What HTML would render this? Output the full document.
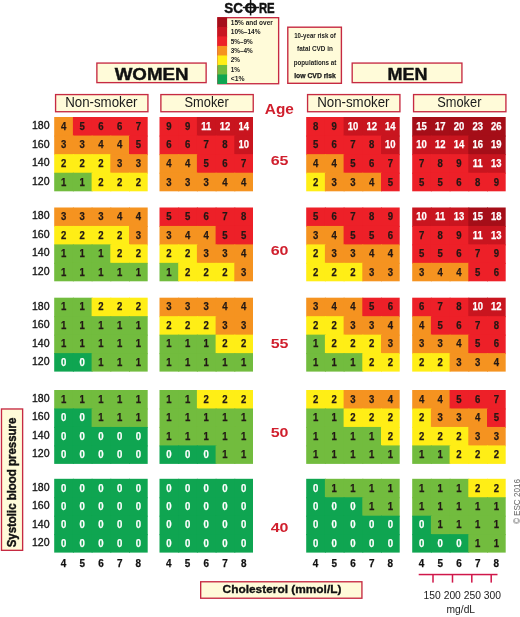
<!DOCTYPE html>
<html lang="en"><head><meta charset="utf-8"><title>SCORE chart</title>
<style>
html,body{margin:0;padding:0;background:#fff}
#c{position:relative;width:520px;height:617px;overflow:hidden;background:#fff;font-family:"Liberation Sans", sans-serif}
#c i{position:absolute;display:block}
#c b{position:absolute;display:block;white-space:nowrap;line-height:1;font-weight:400;font-style:normal;left:0;top:0;transform-origin:0 0}
</style></head><body><div id="c">
<svg width="520" height="617" viewBox="0 0 520 617" style="position:absolute;left:0;top:0">
<rect x="54.20" y="117.00" width="19.70" height="19.58" fill="#f59320"/>
<rect x="72.90" y="117.00" width="19.70" height="19.58" fill="#ed2028"/>
<rect x="91.60" y="117.00" width="19.70" height="19.58" fill="#ed2028"/>
<rect x="110.30" y="117.00" width="19.70" height="19.58" fill="#ed2028"/>
<rect x="129.00" y="117.00" width="18.70" height="19.58" fill="#ed2028"/>
<rect x="54.20" y="135.57" width="19.70" height="19.58" fill="#f59320"/>
<rect x="72.90" y="135.57" width="19.70" height="19.58" fill="#f59320"/>
<rect x="91.60" y="135.57" width="19.70" height="19.58" fill="#f59320"/>
<rect x="110.30" y="135.57" width="19.70" height="19.58" fill="#f59320"/>
<rect x="129.00" y="135.57" width="18.70" height="19.58" fill="#ed2028"/>
<rect x="54.20" y="154.15" width="19.70" height="19.58" fill="#ffee16"/>
<rect x="72.90" y="154.15" width="19.70" height="19.58" fill="#ffee16"/>
<rect x="91.60" y="154.15" width="19.70" height="19.58" fill="#ffee16"/>
<rect x="110.30" y="154.15" width="19.70" height="19.58" fill="#f59320"/>
<rect x="129.00" y="154.15" width="18.70" height="19.58" fill="#f59320"/>
<rect x="54.20" y="172.73" width="19.70" height="18.58" fill="#72bc3e"/>
<rect x="72.90" y="172.73" width="19.70" height="18.58" fill="#72bc3e"/>
<rect x="91.60" y="172.73" width="19.70" height="18.58" fill="#ffee16"/>
<rect x="110.30" y="172.73" width="19.70" height="18.58" fill="#ffee16"/>
<rect x="129.00" y="172.73" width="18.70" height="18.58" fill="#ffee16"/>
<rect x="159.50" y="117.00" width="19.70" height="19.58" fill="#ed2028"/>
<rect x="178.20" y="117.00" width="19.70" height="19.58" fill="#ed2028"/>
<rect x="196.90" y="117.00" width="19.70" height="19.58" fill="#c9151f"/>
<rect x="215.60" y="117.00" width="19.70" height="19.58" fill="#c9151f"/>
<rect x="234.30" y="117.00" width="18.70" height="19.58" fill="#c9151f"/>
<rect x="159.50" y="135.57" width="19.70" height="19.58" fill="#ed2028"/>
<rect x="178.20" y="135.57" width="19.70" height="19.58" fill="#ed2028"/>
<rect x="196.90" y="135.57" width="19.70" height="19.58" fill="#ed2028"/>
<rect x="215.60" y="135.57" width="19.70" height="19.58" fill="#ed2028"/>
<rect x="234.30" y="135.57" width="18.70" height="19.58" fill="#c9151f"/>
<rect x="159.50" y="154.15" width="19.70" height="19.58" fill="#f59320"/>
<rect x="178.20" y="154.15" width="19.70" height="19.58" fill="#f59320"/>
<rect x="196.90" y="154.15" width="19.70" height="19.58" fill="#ed2028"/>
<rect x="215.60" y="154.15" width="19.70" height="19.58" fill="#ed2028"/>
<rect x="234.30" y="154.15" width="18.70" height="19.58" fill="#ed2028"/>
<rect x="159.50" y="172.73" width="19.70" height="18.58" fill="#f59320"/>
<rect x="178.20" y="172.73" width="19.70" height="18.58" fill="#f59320"/>
<rect x="196.90" y="172.73" width="19.70" height="18.58" fill="#f59320"/>
<rect x="215.60" y="172.73" width="19.70" height="18.58" fill="#f59320"/>
<rect x="234.30" y="172.73" width="18.70" height="18.58" fill="#f59320"/>
<rect x="306.20" y="117.00" width="19.70" height="19.58" fill="#ed2028"/>
<rect x="324.90" y="117.00" width="19.70" height="19.58" fill="#ed2028"/>
<rect x="343.60" y="117.00" width="19.70" height="19.58" fill="#c9151f"/>
<rect x="362.30" y="117.00" width="19.70" height="19.58" fill="#c9151f"/>
<rect x="381.00" y="117.00" width="18.70" height="19.58" fill="#c9151f"/>
<rect x="306.20" y="135.57" width="19.70" height="19.58" fill="#ed2028"/>
<rect x="324.90" y="135.57" width="19.70" height="19.58" fill="#ed2028"/>
<rect x="343.60" y="135.57" width="19.70" height="19.58" fill="#ed2028"/>
<rect x="362.30" y="135.57" width="19.70" height="19.58" fill="#ed2028"/>
<rect x="381.00" y="135.57" width="18.70" height="19.58" fill="#c9151f"/>
<rect x="306.20" y="154.15" width="19.70" height="19.58" fill="#f59320"/>
<rect x="324.90" y="154.15" width="19.70" height="19.58" fill="#f59320"/>
<rect x="343.60" y="154.15" width="19.70" height="19.58" fill="#ed2028"/>
<rect x="362.30" y="154.15" width="19.70" height="19.58" fill="#ed2028"/>
<rect x="381.00" y="154.15" width="18.70" height="19.58" fill="#ed2028"/>
<rect x="306.20" y="172.73" width="19.70" height="18.58" fill="#ffee16"/>
<rect x="324.90" y="172.73" width="19.70" height="18.58" fill="#f59320"/>
<rect x="343.60" y="172.73" width="19.70" height="18.58" fill="#f59320"/>
<rect x="362.30" y="172.73" width="19.70" height="18.58" fill="#f59320"/>
<rect x="381.00" y="172.73" width="18.70" height="18.58" fill="#ed2028"/>
<rect x="412.20" y="117.00" width="19.70" height="19.58" fill="#a50e18"/>
<rect x="430.90" y="117.00" width="19.70" height="19.58" fill="#a50e18"/>
<rect x="449.60" y="117.00" width="19.70" height="19.58" fill="#a50e18"/>
<rect x="468.30" y="117.00" width="19.70" height="19.58" fill="#a50e18"/>
<rect x="487.00" y="117.00" width="18.70" height="19.58" fill="#a50e18"/>
<rect x="412.20" y="135.57" width="19.70" height="19.58" fill="#c9151f"/>
<rect x="430.90" y="135.57" width="19.70" height="19.58" fill="#c9151f"/>
<rect x="449.60" y="135.57" width="19.70" height="19.58" fill="#c9151f"/>
<rect x="468.30" y="135.57" width="19.70" height="19.58" fill="#a50e18"/>
<rect x="487.00" y="135.57" width="18.70" height="19.58" fill="#a50e18"/>
<rect x="412.20" y="154.15" width="19.70" height="19.58" fill="#ed2028"/>
<rect x="430.90" y="154.15" width="19.70" height="19.58" fill="#ed2028"/>
<rect x="449.60" y="154.15" width="19.70" height="19.58" fill="#ed2028"/>
<rect x="468.30" y="154.15" width="19.70" height="19.58" fill="#c9151f"/>
<rect x="487.00" y="154.15" width="18.70" height="19.58" fill="#c9151f"/>
<rect x="412.20" y="172.73" width="19.70" height="18.58" fill="#ed2028"/>
<rect x="430.90" y="172.73" width="19.70" height="18.58" fill="#ed2028"/>
<rect x="449.60" y="172.73" width="19.70" height="18.58" fill="#ed2028"/>
<rect x="468.30" y="172.73" width="19.70" height="18.58" fill="#ed2028"/>
<rect x="487.00" y="172.73" width="18.70" height="18.58" fill="#ed2028"/>
<rect x="54.20" y="207.50" width="19.70" height="19.45" fill="#f59320"/>
<rect x="72.90" y="207.50" width="19.70" height="19.45" fill="#f59320"/>
<rect x="91.60" y="207.50" width="19.70" height="19.45" fill="#f59320"/>
<rect x="110.30" y="207.50" width="19.70" height="19.45" fill="#f59320"/>
<rect x="129.00" y="207.50" width="18.70" height="19.45" fill="#f59320"/>
<rect x="54.20" y="225.95" width="19.70" height="19.45" fill="#ffee16"/>
<rect x="72.90" y="225.95" width="19.70" height="19.45" fill="#ffee16"/>
<rect x="91.60" y="225.95" width="19.70" height="19.45" fill="#ffee16"/>
<rect x="110.30" y="225.95" width="19.70" height="19.45" fill="#ffee16"/>
<rect x="129.00" y="225.95" width="18.70" height="19.45" fill="#f59320"/>
<rect x="54.20" y="244.40" width="19.70" height="19.45" fill="#72bc3e"/>
<rect x="72.90" y="244.40" width="19.70" height="19.45" fill="#72bc3e"/>
<rect x="91.60" y="244.40" width="19.70" height="19.45" fill="#72bc3e"/>
<rect x="110.30" y="244.40" width="19.70" height="19.45" fill="#ffee16"/>
<rect x="129.00" y="244.40" width="18.70" height="19.45" fill="#ffee16"/>
<rect x="54.20" y="262.85" width="19.70" height="18.45" fill="#72bc3e"/>
<rect x="72.90" y="262.85" width="19.70" height="18.45" fill="#72bc3e"/>
<rect x="91.60" y="262.85" width="19.70" height="18.45" fill="#72bc3e"/>
<rect x="110.30" y="262.85" width="19.70" height="18.45" fill="#72bc3e"/>
<rect x="129.00" y="262.85" width="18.70" height="18.45" fill="#72bc3e"/>
<rect x="159.50" y="207.50" width="19.70" height="19.45" fill="#ed2028"/>
<rect x="178.20" y="207.50" width="19.70" height="19.45" fill="#ed2028"/>
<rect x="196.90" y="207.50" width="19.70" height="19.45" fill="#ed2028"/>
<rect x="215.60" y="207.50" width="19.70" height="19.45" fill="#ed2028"/>
<rect x="234.30" y="207.50" width="18.70" height="19.45" fill="#ed2028"/>
<rect x="159.50" y="225.95" width="19.70" height="19.45" fill="#f59320"/>
<rect x="178.20" y="225.95" width="19.70" height="19.45" fill="#f59320"/>
<rect x="196.90" y="225.95" width="19.70" height="19.45" fill="#f59320"/>
<rect x="215.60" y="225.95" width="19.70" height="19.45" fill="#ed2028"/>
<rect x="234.30" y="225.95" width="18.70" height="19.45" fill="#ed2028"/>
<rect x="159.50" y="244.40" width="19.70" height="19.45" fill="#ffee16"/>
<rect x="178.20" y="244.40" width="19.70" height="19.45" fill="#ffee16"/>
<rect x="196.90" y="244.40" width="19.70" height="19.45" fill="#f59320"/>
<rect x="215.60" y="244.40" width="19.70" height="19.45" fill="#f59320"/>
<rect x="234.30" y="244.40" width="18.70" height="19.45" fill="#f59320"/>
<rect x="159.50" y="262.85" width="19.70" height="18.45" fill="#72bc3e"/>
<rect x="178.20" y="262.85" width="19.70" height="18.45" fill="#ffee16"/>
<rect x="196.90" y="262.85" width="19.70" height="18.45" fill="#ffee16"/>
<rect x="215.60" y="262.85" width="19.70" height="18.45" fill="#ffee16"/>
<rect x="234.30" y="262.85" width="18.70" height="18.45" fill="#f59320"/>
<rect x="306.20" y="207.50" width="19.70" height="19.45" fill="#ed2028"/>
<rect x="324.90" y="207.50" width="19.70" height="19.45" fill="#ed2028"/>
<rect x="343.60" y="207.50" width="19.70" height="19.45" fill="#ed2028"/>
<rect x="362.30" y="207.50" width="19.70" height="19.45" fill="#ed2028"/>
<rect x="381.00" y="207.50" width="18.70" height="19.45" fill="#ed2028"/>
<rect x="306.20" y="225.95" width="19.70" height="19.45" fill="#f59320"/>
<rect x="324.90" y="225.95" width="19.70" height="19.45" fill="#f59320"/>
<rect x="343.60" y="225.95" width="19.70" height="19.45" fill="#ed2028"/>
<rect x="362.30" y="225.95" width="19.70" height="19.45" fill="#ed2028"/>
<rect x="381.00" y="225.95" width="18.70" height="19.45" fill="#ed2028"/>
<rect x="306.20" y="244.40" width="19.70" height="19.45" fill="#ffee16"/>
<rect x="324.90" y="244.40" width="19.70" height="19.45" fill="#f59320"/>
<rect x="343.60" y="244.40" width="19.70" height="19.45" fill="#f59320"/>
<rect x="362.30" y="244.40" width="19.70" height="19.45" fill="#f59320"/>
<rect x="381.00" y="244.40" width="18.70" height="19.45" fill="#f59320"/>
<rect x="306.20" y="262.85" width="19.70" height="18.45" fill="#ffee16"/>
<rect x="324.90" y="262.85" width="19.70" height="18.45" fill="#ffee16"/>
<rect x="343.60" y="262.85" width="19.70" height="18.45" fill="#ffee16"/>
<rect x="362.30" y="262.85" width="19.70" height="18.45" fill="#f59320"/>
<rect x="381.00" y="262.85" width="18.70" height="18.45" fill="#f59320"/>
<rect x="412.20" y="207.50" width="19.70" height="19.45" fill="#c9151f"/>
<rect x="430.90" y="207.50" width="19.70" height="19.45" fill="#c9151f"/>
<rect x="449.60" y="207.50" width="19.70" height="19.45" fill="#c9151f"/>
<rect x="468.30" y="207.50" width="19.70" height="19.45" fill="#a50e18"/>
<rect x="487.00" y="207.50" width="18.70" height="19.45" fill="#a50e18"/>
<rect x="412.20" y="225.95" width="19.70" height="19.45" fill="#ed2028"/>
<rect x="430.90" y="225.95" width="19.70" height="19.45" fill="#ed2028"/>
<rect x="449.60" y="225.95" width="19.70" height="19.45" fill="#ed2028"/>
<rect x="468.30" y="225.95" width="19.70" height="19.45" fill="#c9151f"/>
<rect x="487.00" y="225.95" width="18.70" height="19.45" fill="#c9151f"/>
<rect x="412.20" y="244.40" width="19.70" height="19.45" fill="#ed2028"/>
<rect x="430.90" y="244.40" width="19.70" height="19.45" fill="#ed2028"/>
<rect x="449.60" y="244.40" width="19.70" height="19.45" fill="#ed2028"/>
<rect x="468.30" y="244.40" width="19.70" height="19.45" fill="#ed2028"/>
<rect x="487.00" y="244.40" width="18.70" height="19.45" fill="#ed2028"/>
<rect x="412.20" y="262.85" width="19.70" height="18.45" fill="#f59320"/>
<rect x="430.90" y="262.85" width="19.70" height="18.45" fill="#f59320"/>
<rect x="449.60" y="262.85" width="19.70" height="18.45" fill="#f59320"/>
<rect x="468.30" y="262.85" width="19.70" height="18.45" fill="#ed2028"/>
<rect x="487.00" y="262.85" width="18.70" height="18.45" fill="#ed2028"/>
<rect x="54.20" y="297.70" width="19.70" height="19.48" fill="#72bc3e"/>
<rect x="72.90" y="297.70" width="19.70" height="19.48" fill="#72bc3e"/>
<rect x="91.60" y="297.70" width="19.70" height="19.48" fill="#ffee16"/>
<rect x="110.30" y="297.70" width="19.70" height="19.48" fill="#ffee16"/>
<rect x="129.00" y="297.70" width="18.70" height="19.48" fill="#ffee16"/>
<rect x="54.20" y="316.18" width="19.70" height="19.48" fill="#72bc3e"/>
<rect x="72.90" y="316.18" width="19.70" height="19.48" fill="#72bc3e"/>
<rect x="91.60" y="316.18" width="19.70" height="19.48" fill="#72bc3e"/>
<rect x="110.30" y="316.18" width="19.70" height="19.48" fill="#72bc3e"/>
<rect x="129.00" y="316.18" width="18.70" height="19.48" fill="#72bc3e"/>
<rect x="54.20" y="334.65" width="19.70" height="19.48" fill="#72bc3e"/>
<rect x="72.90" y="334.65" width="19.70" height="19.48" fill="#72bc3e"/>
<rect x="91.60" y="334.65" width="19.70" height="19.48" fill="#72bc3e"/>
<rect x="110.30" y="334.65" width="19.70" height="19.48" fill="#72bc3e"/>
<rect x="129.00" y="334.65" width="18.70" height="19.48" fill="#72bc3e"/>
<rect x="54.20" y="353.12" width="19.70" height="18.48" fill="#0fa551"/>
<rect x="72.90" y="353.12" width="19.70" height="18.48" fill="#0fa551"/>
<rect x="91.60" y="353.12" width="19.70" height="18.48" fill="#72bc3e"/>
<rect x="110.30" y="353.12" width="19.70" height="18.48" fill="#72bc3e"/>
<rect x="129.00" y="353.12" width="18.70" height="18.48" fill="#72bc3e"/>
<rect x="159.50" y="297.70" width="19.70" height="19.48" fill="#f59320"/>
<rect x="178.20" y="297.70" width="19.70" height="19.48" fill="#f59320"/>
<rect x="196.90" y="297.70" width="19.70" height="19.48" fill="#f59320"/>
<rect x="215.60" y="297.70" width="19.70" height="19.48" fill="#f59320"/>
<rect x="234.30" y="297.70" width="18.70" height="19.48" fill="#f59320"/>
<rect x="159.50" y="316.18" width="19.70" height="19.48" fill="#ffee16"/>
<rect x="178.20" y="316.18" width="19.70" height="19.48" fill="#ffee16"/>
<rect x="196.90" y="316.18" width="19.70" height="19.48" fill="#ffee16"/>
<rect x="215.60" y="316.18" width="19.70" height="19.48" fill="#f59320"/>
<rect x="234.30" y="316.18" width="18.70" height="19.48" fill="#f59320"/>
<rect x="159.50" y="334.65" width="19.70" height="19.48" fill="#72bc3e"/>
<rect x="178.20" y="334.65" width="19.70" height="19.48" fill="#72bc3e"/>
<rect x="196.90" y="334.65" width="19.70" height="19.48" fill="#72bc3e"/>
<rect x="215.60" y="334.65" width="19.70" height="19.48" fill="#ffee16"/>
<rect x="234.30" y="334.65" width="18.70" height="19.48" fill="#ffee16"/>
<rect x="159.50" y="353.12" width="19.70" height="18.48" fill="#72bc3e"/>
<rect x="178.20" y="353.12" width="19.70" height="18.48" fill="#72bc3e"/>
<rect x="196.90" y="353.12" width="19.70" height="18.48" fill="#72bc3e"/>
<rect x="215.60" y="353.12" width="19.70" height="18.48" fill="#72bc3e"/>
<rect x="234.30" y="353.12" width="18.70" height="18.48" fill="#72bc3e"/>
<rect x="306.20" y="297.70" width="19.70" height="19.48" fill="#f59320"/>
<rect x="324.90" y="297.70" width="19.70" height="19.48" fill="#f59320"/>
<rect x="343.60" y="297.70" width="19.70" height="19.48" fill="#f59320"/>
<rect x="362.30" y="297.70" width="19.70" height="19.48" fill="#ed2028"/>
<rect x="381.00" y="297.70" width="18.70" height="19.48" fill="#ed2028"/>
<rect x="306.20" y="316.18" width="19.70" height="19.48" fill="#ffee16"/>
<rect x="324.90" y="316.18" width="19.70" height="19.48" fill="#ffee16"/>
<rect x="343.60" y="316.18" width="19.70" height="19.48" fill="#f59320"/>
<rect x="362.30" y="316.18" width="19.70" height="19.48" fill="#f59320"/>
<rect x="381.00" y="316.18" width="18.70" height="19.48" fill="#f59320"/>
<rect x="306.20" y="334.65" width="19.70" height="19.48" fill="#72bc3e"/>
<rect x="324.90" y="334.65" width="19.70" height="19.48" fill="#ffee16"/>
<rect x="343.60" y="334.65" width="19.70" height="19.48" fill="#ffee16"/>
<rect x="362.30" y="334.65" width="19.70" height="19.48" fill="#ffee16"/>
<rect x="381.00" y="334.65" width="18.70" height="19.48" fill="#f59320"/>
<rect x="306.20" y="353.12" width="19.70" height="18.48" fill="#72bc3e"/>
<rect x="324.90" y="353.12" width="19.70" height="18.48" fill="#72bc3e"/>
<rect x="343.60" y="353.12" width="19.70" height="18.48" fill="#72bc3e"/>
<rect x="362.30" y="353.12" width="19.70" height="18.48" fill="#ffee16"/>
<rect x="381.00" y="353.12" width="18.70" height="18.48" fill="#ffee16"/>
<rect x="412.20" y="297.70" width="19.70" height="19.48" fill="#ed2028"/>
<rect x="430.90" y="297.70" width="19.70" height="19.48" fill="#ed2028"/>
<rect x="449.60" y="297.70" width="19.70" height="19.48" fill="#ed2028"/>
<rect x="468.30" y="297.70" width="19.70" height="19.48" fill="#c9151f"/>
<rect x="487.00" y="297.70" width="18.70" height="19.48" fill="#c9151f"/>
<rect x="412.20" y="316.18" width="19.70" height="19.48" fill="#f59320"/>
<rect x="430.90" y="316.18" width="19.70" height="19.48" fill="#ed2028"/>
<rect x="449.60" y="316.18" width="19.70" height="19.48" fill="#ed2028"/>
<rect x="468.30" y="316.18" width="19.70" height="19.48" fill="#ed2028"/>
<rect x="487.00" y="316.18" width="18.70" height="19.48" fill="#ed2028"/>
<rect x="412.20" y="334.65" width="19.70" height="19.48" fill="#f59320"/>
<rect x="430.90" y="334.65" width="19.70" height="19.48" fill="#f59320"/>
<rect x="449.60" y="334.65" width="19.70" height="19.48" fill="#f59320"/>
<rect x="468.30" y="334.65" width="19.70" height="19.48" fill="#ed2028"/>
<rect x="487.00" y="334.65" width="18.70" height="19.48" fill="#ed2028"/>
<rect x="412.20" y="353.12" width="19.70" height="18.48" fill="#ffee16"/>
<rect x="430.90" y="353.12" width="19.70" height="18.48" fill="#ffee16"/>
<rect x="449.60" y="353.12" width="19.70" height="18.48" fill="#f59320"/>
<rect x="468.30" y="353.12" width="19.70" height="18.48" fill="#f59320"/>
<rect x="487.00" y="353.12" width="18.70" height="18.48" fill="#f59320"/>
<rect x="54.20" y="390.00" width="19.70" height="19.47" fill="#72bc3e"/>
<rect x="72.90" y="390.00" width="19.70" height="19.47" fill="#72bc3e"/>
<rect x="91.60" y="390.00" width="19.70" height="19.47" fill="#72bc3e"/>
<rect x="110.30" y="390.00" width="19.70" height="19.47" fill="#72bc3e"/>
<rect x="129.00" y="390.00" width="18.70" height="19.47" fill="#72bc3e"/>
<rect x="54.20" y="408.48" width="19.70" height="19.47" fill="#0fa551"/>
<rect x="72.90" y="408.48" width="19.70" height="19.47" fill="#0fa551"/>
<rect x="91.60" y="408.48" width="19.70" height="19.47" fill="#72bc3e"/>
<rect x="110.30" y="408.48" width="19.70" height="19.47" fill="#72bc3e"/>
<rect x="129.00" y="408.48" width="18.70" height="19.47" fill="#72bc3e"/>
<rect x="54.20" y="426.95" width="19.70" height="19.47" fill="#0fa551"/>
<rect x="72.90" y="426.95" width="19.70" height="19.47" fill="#0fa551"/>
<rect x="91.60" y="426.95" width="19.70" height="19.47" fill="#0fa551"/>
<rect x="110.30" y="426.95" width="19.70" height="19.47" fill="#0fa551"/>
<rect x="129.00" y="426.95" width="18.70" height="19.47" fill="#0fa551"/>
<rect x="54.20" y="445.42" width="19.70" height="18.47" fill="#0fa551"/>
<rect x="72.90" y="445.42" width="19.70" height="18.47" fill="#0fa551"/>
<rect x="91.60" y="445.42" width="19.70" height="18.47" fill="#0fa551"/>
<rect x="110.30" y="445.42" width="19.70" height="18.47" fill="#0fa551"/>
<rect x="129.00" y="445.42" width="18.70" height="18.47" fill="#0fa551"/>
<rect x="159.50" y="390.00" width="19.70" height="19.47" fill="#72bc3e"/>
<rect x="178.20" y="390.00" width="19.70" height="19.47" fill="#72bc3e"/>
<rect x="196.90" y="390.00" width="19.70" height="19.47" fill="#ffee16"/>
<rect x="215.60" y="390.00" width="19.70" height="19.47" fill="#ffee16"/>
<rect x="234.30" y="390.00" width="18.70" height="19.47" fill="#ffee16"/>
<rect x="159.50" y="408.48" width="19.70" height="19.47" fill="#72bc3e"/>
<rect x="178.20" y="408.48" width="19.70" height="19.47" fill="#72bc3e"/>
<rect x="196.90" y="408.48" width="19.70" height="19.47" fill="#72bc3e"/>
<rect x="215.60" y="408.48" width="19.70" height="19.47" fill="#72bc3e"/>
<rect x="234.30" y="408.48" width="18.70" height="19.47" fill="#72bc3e"/>
<rect x="159.50" y="426.95" width="19.70" height="19.47" fill="#72bc3e"/>
<rect x="178.20" y="426.95" width="19.70" height="19.47" fill="#72bc3e"/>
<rect x="196.90" y="426.95" width="19.70" height="19.47" fill="#72bc3e"/>
<rect x="215.60" y="426.95" width="19.70" height="19.47" fill="#72bc3e"/>
<rect x="234.30" y="426.95" width="18.70" height="19.47" fill="#72bc3e"/>
<rect x="159.50" y="445.42" width="19.70" height="18.47" fill="#0fa551"/>
<rect x="178.20" y="445.42" width="19.70" height="18.47" fill="#0fa551"/>
<rect x="196.90" y="445.42" width="19.70" height="18.47" fill="#0fa551"/>
<rect x="215.60" y="445.42" width="19.70" height="18.47" fill="#72bc3e"/>
<rect x="234.30" y="445.42" width="18.70" height="18.47" fill="#72bc3e"/>
<rect x="306.20" y="390.00" width="19.70" height="19.47" fill="#ffee16"/>
<rect x="324.90" y="390.00" width="19.70" height="19.47" fill="#ffee16"/>
<rect x="343.60" y="390.00" width="19.70" height="19.47" fill="#f59320"/>
<rect x="362.30" y="390.00" width="19.70" height="19.47" fill="#f59320"/>
<rect x="381.00" y="390.00" width="18.70" height="19.47" fill="#f59320"/>
<rect x="306.20" y="408.48" width="19.70" height="19.47" fill="#72bc3e"/>
<rect x="324.90" y="408.48" width="19.70" height="19.47" fill="#72bc3e"/>
<rect x="343.60" y="408.48" width="19.70" height="19.47" fill="#ffee16"/>
<rect x="362.30" y="408.48" width="19.70" height="19.47" fill="#ffee16"/>
<rect x="381.00" y="408.48" width="18.70" height="19.47" fill="#ffee16"/>
<rect x="306.20" y="426.95" width="19.70" height="19.47" fill="#72bc3e"/>
<rect x="324.90" y="426.95" width="19.70" height="19.47" fill="#72bc3e"/>
<rect x="343.60" y="426.95" width="19.70" height="19.47" fill="#72bc3e"/>
<rect x="362.30" y="426.95" width="19.70" height="19.47" fill="#72bc3e"/>
<rect x="381.00" y="426.95" width="18.70" height="19.47" fill="#ffee16"/>
<rect x="306.20" y="445.42" width="19.70" height="18.47" fill="#72bc3e"/>
<rect x="324.90" y="445.42" width="19.70" height="18.47" fill="#72bc3e"/>
<rect x="343.60" y="445.42" width="19.70" height="18.47" fill="#72bc3e"/>
<rect x="362.30" y="445.42" width="19.70" height="18.47" fill="#72bc3e"/>
<rect x="381.00" y="445.42" width="18.70" height="18.47" fill="#72bc3e"/>
<rect x="412.20" y="390.00" width="19.70" height="19.47" fill="#f59320"/>
<rect x="430.90" y="390.00" width="19.70" height="19.47" fill="#f59320"/>
<rect x="449.60" y="390.00" width="19.70" height="19.47" fill="#ed2028"/>
<rect x="468.30" y="390.00" width="19.70" height="19.47" fill="#ed2028"/>
<rect x="487.00" y="390.00" width="18.70" height="19.47" fill="#ed2028"/>
<rect x="412.20" y="408.48" width="19.70" height="19.47" fill="#ffee16"/>
<rect x="430.90" y="408.48" width="19.70" height="19.47" fill="#f59320"/>
<rect x="449.60" y="408.48" width="19.70" height="19.47" fill="#f59320"/>
<rect x="468.30" y="408.48" width="19.70" height="19.47" fill="#f59320"/>
<rect x="487.00" y="408.48" width="18.70" height="19.47" fill="#ed2028"/>
<rect x="412.20" y="426.95" width="19.70" height="19.47" fill="#ffee16"/>
<rect x="430.90" y="426.95" width="19.70" height="19.47" fill="#ffee16"/>
<rect x="449.60" y="426.95" width="19.70" height="19.47" fill="#ffee16"/>
<rect x="468.30" y="426.95" width="19.70" height="19.47" fill="#f59320"/>
<rect x="487.00" y="426.95" width="18.70" height="19.47" fill="#f59320"/>
<rect x="412.20" y="445.42" width="19.70" height="18.47" fill="#72bc3e"/>
<rect x="430.90" y="445.42" width="19.70" height="18.47" fill="#72bc3e"/>
<rect x="449.60" y="445.42" width="19.70" height="18.47" fill="#ffee16"/>
<rect x="468.30" y="445.42" width="19.70" height="18.47" fill="#ffee16"/>
<rect x="487.00" y="445.42" width="18.70" height="18.47" fill="#ffee16"/>
<rect x="54.20" y="478.80" width="19.70" height="19.45" fill="#0fa551"/>
<rect x="72.90" y="478.80" width="19.70" height="19.45" fill="#0fa551"/>
<rect x="91.60" y="478.80" width="19.70" height="19.45" fill="#0fa551"/>
<rect x="110.30" y="478.80" width="19.70" height="19.45" fill="#0fa551"/>
<rect x="129.00" y="478.80" width="18.70" height="19.45" fill="#0fa551"/>
<rect x="54.20" y="497.25" width="19.70" height="19.45" fill="#0fa551"/>
<rect x="72.90" y="497.25" width="19.70" height="19.45" fill="#0fa551"/>
<rect x="91.60" y="497.25" width="19.70" height="19.45" fill="#0fa551"/>
<rect x="110.30" y="497.25" width="19.70" height="19.45" fill="#0fa551"/>
<rect x="129.00" y="497.25" width="18.70" height="19.45" fill="#0fa551"/>
<rect x="54.20" y="515.70" width="19.70" height="19.45" fill="#0fa551"/>
<rect x="72.90" y="515.70" width="19.70" height="19.45" fill="#0fa551"/>
<rect x="91.60" y="515.70" width="19.70" height="19.45" fill="#0fa551"/>
<rect x="110.30" y="515.70" width="19.70" height="19.45" fill="#0fa551"/>
<rect x="129.00" y="515.70" width="18.70" height="19.45" fill="#0fa551"/>
<rect x="54.20" y="534.15" width="19.70" height="18.45" fill="#0fa551"/>
<rect x="72.90" y="534.15" width="19.70" height="18.45" fill="#0fa551"/>
<rect x="91.60" y="534.15" width="19.70" height="18.45" fill="#0fa551"/>
<rect x="110.30" y="534.15" width="19.70" height="18.45" fill="#0fa551"/>
<rect x="129.00" y="534.15" width="18.70" height="18.45" fill="#0fa551"/>
<rect x="159.50" y="478.80" width="19.70" height="19.45" fill="#0fa551"/>
<rect x="178.20" y="478.80" width="19.70" height="19.45" fill="#0fa551"/>
<rect x="196.90" y="478.80" width="19.70" height="19.45" fill="#0fa551"/>
<rect x="215.60" y="478.80" width="19.70" height="19.45" fill="#0fa551"/>
<rect x="234.30" y="478.80" width="18.70" height="19.45" fill="#0fa551"/>
<rect x="159.50" y="497.25" width="19.70" height="19.45" fill="#0fa551"/>
<rect x="178.20" y="497.25" width="19.70" height="19.45" fill="#0fa551"/>
<rect x="196.90" y="497.25" width="19.70" height="19.45" fill="#0fa551"/>
<rect x="215.60" y="497.25" width="19.70" height="19.45" fill="#0fa551"/>
<rect x="234.30" y="497.25" width="18.70" height="19.45" fill="#0fa551"/>
<rect x="159.50" y="515.70" width="19.70" height="19.45" fill="#0fa551"/>
<rect x="178.20" y="515.70" width="19.70" height="19.45" fill="#0fa551"/>
<rect x="196.90" y="515.70" width="19.70" height="19.45" fill="#0fa551"/>
<rect x="215.60" y="515.70" width="19.70" height="19.45" fill="#0fa551"/>
<rect x="234.30" y="515.70" width="18.70" height="19.45" fill="#0fa551"/>
<rect x="159.50" y="534.15" width="19.70" height="18.45" fill="#0fa551"/>
<rect x="178.20" y="534.15" width="19.70" height="18.45" fill="#0fa551"/>
<rect x="196.90" y="534.15" width="19.70" height="18.45" fill="#0fa551"/>
<rect x="215.60" y="534.15" width="19.70" height="18.45" fill="#0fa551"/>
<rect x="234.30" y="534.15" width="18.70" height="18.45" fill="#0fa551"/>
<rect x="306.20" y="478.80" width="19.70" height="19.45" fill="#0fa551"/>
<rect x="324.90" y="478.80" width="19.70" height="19.45" fill="#72bc3e"/>
<rect x="343.60" y="478.80" width="19.70" height="19.45" fill="#72bc3e"/>
<rect x="362.30" y="478.80" width="19.70" height="19.45" fill="#72bc3e"/>
<rect x="381.00" y="478.80" width="18.70" height="19.45" fill="#72bc3e"/>
<rect x="306.20" y="497.25" width="19.70" height="19.45" fill="#0fa551"/>
<rect x="324.90" y="497.25" width="19.70" height="19.45" fill="#0fa551"/>
<rect x="343.60" y="497.25" width="19.70" height="19.45" fill="#0fa551"/>
<rect x="362.30" y="497.25" width="19.70" height="19.45" fill="#72bc3e"/>
<rect x="381.00" y="497.25" width="18.70" height="19.45" fill="#72bc3e"/>
<rect x="306.20" y="515.70" width="19.70" height="19.45" fill="#0fa551"/>
<rect x="324.90" y="515.70" width="19.70" height="19.45" fill="#0fa551"/>
<rect x="343.60" y="515.70" width="19.70" height="19.45" fill="#0fa551"/>
<rect x="362.30" y="515.70" width="19.70" height="19.45" fill="#0fa551"/>
<rect x="381.00" y="515.70" width="18.70" height="19.45" fill="#0fa551"/>
<rect x="306.20" y="534.15" width="19.70" height="18.45" fill="#0fa551"/>
<rect x="324.90" y="534.15" width="19.70" height="18.45" fill="#0fa551"/>
<rect x="343.60" y="534.15" width="19.70" height="18.45" fill="#0fa551"/>
<rect x="362.30" y="534.15" width="19.70" height="18.45" fill="#0fa551"/>
<rect x="381.00" y="534.15" width="18.70" height="18.45" fill="#0fa551"/>
<rect x="412.20" y="478.80" width="19.70" height="19.45" fill="#72bc3e"/>
<rect x="430.90" y="478.80" width="19.70" height="19.45" fill="#72bc3e"/>
<rect x="449.60" y="478.80" width="19.70" height="19.45" fill="#72bc3e"/>
<rect x="468.30" y="478.80" width="19.70" height="19.45" fill="#ffee16"/>
<rect x="487.00" y="478.80" width="18.70" height="19.45" fill="#ffee16"/>
<rect x="412.20" y="497.25" width="19.70" height="19.45" fill="#72bc3e"/>
<rect x="430.90" y="497.25" width="19.70" height="19.45" fill="#72bc3e"/>
<rect x="449.60" y="497.25" width="19.70" height="19.45" fill="#72bc3e"/>
<rect x="468.30" y="497.25" width="19.70" height="19.45" fill="#72bc3e"/>
<rect x="487.00" y="497.25" width="18.70" height="19.45" fill="#72bc3e"/>
<rect x="412.20" y="515.70" width="19.70" height="19.45" fill="#0fa551"/>
<rect x="430.90" y="515.70" width="19.70" height="19.45" fill="#72bc3e"/>
<rect x="449.60" y="515.70" width="19.70" height="19.45" fill="#72bc3e"/>
<rect x="468.30" y="515.70" width="19.70" height="19.45" fill="#72bc3e"/>
<rect x="487.00" y="515.70" width="18.70" height="19.45" fill="#72bc3e"/>
<rect x="412.20" y="534.15" width="19.70" height="18.45" fill="#0fa551"/>
<rect x="430.90" y="534.15" width="19.70" height="18.45" fill="#0fa551"/>
<rect x="449.60" y="534.15" width="19.70" height="18.45" fill="#0fa551"/>
<rect x="468.30" y="534.15" width="19.70" height="18.45" fill="#72bc3e"/>
<rect x="487.00" y="534.15" width="18.70" height="18.45" fill="#72bc3e"/>
<rect x="55.58" y="94.58" width="92.35" height="17.15" fill="#fffbd9" stroke="#c62a42" stroke-width="1.35"/>
<rect x="160.88" y="94.58" width="92.35" height="17.15" fill="#fffbd9" stroke="#c62a42" stroke-width="1.35"/>
<rect x="307.57" y="94.58" width="92.35" height="17.15" fill="#fffbd9" stroke="#c62a42" stroke-width="1.35"/>
<rect x="413.57" y="94.58" width="92.35" height="17.15" fill="#fffbd9" stroke="#c62a42" stroke-width="1.35"/>
<rect x="96.88" y="63.07" width="109.25" height="19.55" fill="#fffbd9" stroke="#c62a42" stroke-width="1.35"/>
<rect x="352.18" y="63.07" width="109.75" height="19.55" fill="#fffbd9" stroke="#c62a42" stroke-width="1.35"/>
<rect x="217.88" y="17.68" width="60.75" height="66.05" fill="#fffbd9" stroke="#c62a42" stroke-width="1.35"/>
<rect x="217.40" y="17.40" width="9.70" height="10.51" fill="#a50e18"/>
<rect x="217.40" y="26.91" width="9.70" height="10.51" fill="#c9151f"/>
<rect x="217.40" y="36.43" width="9.70" height="10.51" fill="#ed2028"/>
<rect x="217.40" y="45.94" width="9.70" height="10.51" fill="#f59320"/>
<rect x="217.40" y="55.46" width="9.70" height="10.51" fill="#ffee16"/>
<rect x="217.40" y="64.97" width="9.70" height="10.51" fill="#72bc3e"/>
<rect x="217.40" y="74.49" width="9.70" height="9.51" fill="#0fa551"/>
<rect x="287.80" y="27.20" width="53.60" height="56.10" fill="#fffbd9" stroke="#c62a42" stroke-width="1.40"/>
<rect x="1.48" y="408.98" width="21.15" height="141.35" fill="#fffbd9" stroke="#c62a42" stroke-width="1.35"/>
<rect x="200.68" y="581.77" width="161.25" height="16.45" fill="#fffbd9" stroke="#c62a42" stroke-width="1.35"/>
<rect x="249.85" y="0" width="1.5" height="15.4" fill="#111"/>
<rect x="242.8" y="6.75" width="16.2" height="1.5" fill="#111"/>
<rect x="418.7" y="573.8" width="78.8" height="1.5" fill="#d0174a"/>
<rect x="432.25" y="574" width="1.5" height="8.6" fill="#d0174a"/>
<rect x="451.75" y="574" width="1.5" height="8.6" fill="#d0174a"/>
<rect x="471.05" y="574" width="1.5" height="8.6" fill="#d0174a"/>
<rect x="490.45" y="574" width="1.5" height="8.6" fill="#d0174a"/>
</svg>
<b style="font-size:11px;color:#231815;font-weight:700;-webkit-text-stroke:0.25px #231815;transform:translate(60.89px,120.79px) scale(0.8700,1);">4</b>
<b style="font-size:11px;color:#231815;font-weight:700;-webkit-text-stroke:0.25px #231815;transform:translate(79.59px,120.79px) scale(0.8700,1);">5</b>
<b style="font-size:11px;color:#231815;font-weight:700;-webkit-text-stroke:0.25px #231815;transform:translate(98.29px,120.79px) scale(0.8700,1);">6</b>
<b style="font-size:11px;color:#231815;font-weight:700;-webkit-text-stroke:0.25px #231815;transform:translate(116.99px,120.79px) scale(0.8700,1);">6</b>
<b style="font-size:11px;color:#231815;font-weight:700;-webkit-text-stroke:0.25px #231815;transform:translate(135.69px,120.79px) scale(0.8700,1);">7</b>
<b style="font-size:11px;color:#231815;font-weight:700;-webkit-text-stroke:0.25px #231815;transform:translate(60.89px,139.36px) scale(0.8700,1);">3</b>
<b style="font-size:11px;color:#231815;font-weight:700;-webkit-text-stroke:0.25px #231815;transform:translate(79.59px,139.36px) scale(0.8700,1);">3</b>
<b style="font-size:11px;color:#231815;font-weight:700;-webkit-text-stroke:0.25px #231815;transform:translate(98.29px,139.36px) scale(0.8700,1);">4</b>
<b style="font-size:11px;color:#231815;font-weight:700;-webkit-text-stroke:0.25px #231815;transform:translate(116.99px,139.36px) scale(0.8700,1);">4</b>
<b style="font-size:11px;color:#231815;font-weight:700;-webkit-text-stroke:0.25px #231815;transform:translate(135.69px,139.36px) scale(0.8700,1);">5</b>
<b style="font-size:11px;color:#231815;font-weight:700;-webkit-text-stroke:0.25px #231815;transform:translate(60.89px,157.94px) scale(0.8700,1);">2</b>
<b style="font-size:11px;color:#231815;font-weight:700;-webkit-text-stroke:0.25px #231815;transform:translate(79.59px,157.94px) scale(0.8700,1);">2</b>
<b style="font-size:11px;color:#231815;font-weight:700;-webkit-text-stroke:0.25px #231815;transform:translate(98.29px,157.94px) scale(0.8700,1);">2</b>
<b style="font-size:11px;color:#231815;font-weight:700;-webkit-text-stroke:0.25px #231815;transform:translate(116.99px,157.94px) scale(0.8700,1);">3</b>
<b style="font-size:11px;color:#231815;font-weight:700;-webkit-text-stroke:0.25px #231815;transform:translate(135.69px,157.94px) scale(0.8700,1);">3</b>
<b style="font-size:11px;color:#231815;font-weight:700;-webkit-text-stroke:0.25px #231815;transform:translate(60.89px,176.51px) scale(0.8700,1);">1</b>
<b style="font-size:11px;color:#231815;font-weight:700;-webkit-text-stroke:0.25px #231815;transform:translate(79.59px,176.51px) scale(0.8700,1);">1</b>
<b style="font-size:11px;color:#231815;font-weight:700;-webkit-text-stroke:0.25px #231815;transform:translate(98.29px,176.51px) scale(0.8700,1);">2</b>
<b style="font-size:11px;color:#231815;font-weight:700;-webkit-text-stroke:0.25px #231815;transform:translate(116.99px,176.51px) scale(0.8700,1);">2</b>
<b style="font-size:11px;color:#231815;font-weight:700;-webkit-text-stroke:0.25px #231815;transform:translate(135.69px,176.51px) scale(0.8700,1);">2</b>
<b style="font-size:11px;color:#231815;font-weight:700;-webkit-text-stroke:0.25px #231815;transform:translate(166.19px,120.79px) scale(0.8700,1);">9</b>
<b style="font-size:11px;color:#231815;font-weight:700;-webkit-text-stroke:0.25px #231815;transform:translate(184.89px,120.79px) scale(0.8700,1);">9</b>
<b style="font-size:11px;color:#ffffff;font-weight:700;-webkit-text-stroke:0.25px #ffffff;transform:translate(201.24px,120.79px) scale(0.8600,1);">11</b>
<b style="font-size:11px;color:#ffffff;font-weight:700;-webkit-text-stroke:0.25px #ffffff;transform:translate(219.68px,120.79px) scale(0.8600,1);">12</b>
<b style="font-size:11px;color:#ffffff;font-weight:700;-webkit-text-stroke:0.25px #ffffff;transform:translate(238.38px,120.79px) scale(0.8600,1);">14</b>
<b style="font-size:11px;color:#231815;font-weight:700;-webkit-text-stroke:0.25px #231815;transform:translate(166.19px,139.36px) scale(0.8700,1);">6</b>
<b style="font-size:11px;color:#231815;font-weight:700;-webkit-text-stroke:0.25px #231815;transform:translate(184.89px,139.36px) scale(0.8700,1);">6</b>
<b style="font-size:11px;color:#231815;font-weight:700;-webkit-text-stroke:0.25px #231815;transform:translate(203.59px,139.36px) scale(0.8700,1);">7</b>
<b style="font-size:11px;color:#231815;font-weight:700;-webkit-text-stroke:0.25px #231815;transform:translate(222.29px,139.36px) scale(0.8700,1);">8</b>
<b style="font-size:11px;color:#ffffff;font-weight:700;-webkit-text-stroke:0.25px #ffffff;transform:translate(238.38px,139.36px) scale(0.8600,1);">10</b>
<b style="font-size:11px;color:#231815;font-weight:700;-webkit-text-stroke:0.25px #231815;transform:translate(166.19px,157.94px) scale(0.8700,1);">4</b>
<b style="font-size:11px;color:#231815;font-weight:700;-webkit-text-stroke:0.25px #231815;transform:translate(184.89px,157.94px) scale(0.8700,1);">4</b>
<b style="font-size:11px;color:#231815;font-weight:700;-webkit-text-stroke:0.25px #231815;transform:translate(203.59px,157.94px) scale(0.8700,1);">5</b>
<b style="font-size:11px;color:#231815;font-weight:700;-webkit-text-stroke:0.25px #231815;transform:translate(222.29px,157.94px) scale(0.8700,1);">6</b>
<b style="font-size:11px;color:#231815;font-weight:700;-webkit-text-stroke:0.25px #231815;transform:translate(240.99px,157.94px) scale(0.8700,1);">7</b>
<b style="font-size:11px;color:#231815;font-weight:700;-webkit-text-stroke:0.25px #231815;transform:translate(166.19px,176.51px) scale(0.8700,1);">3</b>
<b style="font-size:11px;color:#231815;font-weight:700;-webkit-text-stroke:0.25px #231815;transform:translate(184.89px,176.51px) scale(0.8700,1);">3</b>
<b style="font-size:11px;color:#231815;font-weight:700;-webkit-text-stroke:0.25px #231815;transform:translate(203.59px,176.51px) scale(0.8700,1);">3</b>
<b style="font-size:11px;color:#231815;font-weight:700;-webkit-text-stroke:0.25px #231815;transform:translate(222.29px,176.51px) scale(0.8700,1);">4</b>
<b style="font-size:11px;color:#231815;font-weight:700;-webkit-text-stroke:0.25px #231815;transform:translate(240.99px,176.51px) scale(0.8700,1);">4</b>
<b style="font-size:11px;color:#231815;font-weight:700;-webkit-text-stroke:0.25px #231815;transform:translate(312.89px,120.79px) scale(0.8700,1);">8</b>
<b style="font-size:11px;color:#231815;font-weight:700;-webkit-text-stroke:0.25px #231815;transform:translate(331.59px,120.79px) scale(0.8700,1);">9</b>
<b style="font-size:11px;color:#ffffff;font-weight:700;-webkit-text-stroke:0.25px #ffffff;transform:translate(347.68px,120.79px) scale(0.8600,1);">10</b>
<b style="font-size:11px;color:#ffffff;font-weight:700;-webkit-text-stroke:0.25px #ffffff;transform:translate(366.38px,120.79px) scale(0.8600,1);">12</b>
<b style="font-size:11px;color:#ffffff;font-weight:700;-webkit-text-stroke:0.25px #ffffff;transform:translate(385.08px,120.79px) scale(0.8600,1);">14</b>
<b style="font-size:11px;color:#231815;font-weight:700;-webkit-text-stroke:0.25px #231815;transform:translate(312.89px,139.36px) scale(0.8700,1);">5</b>
<b style="font-size:11px;color:#231815;font-weight:700;-webkit-text-stroke:0.25px #231815;transform:translate(331.59px,139.36px) scale(0.8700,1);">6</b>
<b style="font-size:11px;color:#231815;font-weight:700;-webkit-text-stroke:0.25px #231815;transform:translate(350.29px,139.36px) scale(0.8700,1);">7</b>
<b style="font-size:11px;color:#231815;font-weight:700;-webkit-text-stroke:0.25px #231815;transform:translate(368.99px,139.36px) scale(0.8700,1);">8</b>
<b style="font-size:11px;color:#ffffff;font-weight:700;-webkit-text-stroke:0.25px #ffffff;transform:translate(385.08px,139.36px) scale(0.8600,1);">10</b>
<b style="font-size:11px;color:#231815;font-weight:700;-webkit-text-stroke:0.25px #231815;transform:translate(312.89px,157.94px) scale(0.8700,1);">4</b>
<b style="font-size:11px;color:#231815;font-weight:700;-webkit-text-stroke:0.25px #231815;transform:translate(331.59px,157.94px) scale(0.8700,1);">4</b>
<b style="font-size:11px;color:#231815;font-weight:700;-webkit-text-stroke:0.25px #231815;transform:translate(350.29px,157.94px) scale(0.8700,1);">5</b>
<b style="font-size:11px;color:#231815;font-weight:700;-webkit-text-stroke:0.25px #231815;transform:translate(368.99px,157.94px) scale(0.8700,1);">6</b>
<b style="font-size:11px;color:#231815;font-weight:700;-webkit-text-stroke:0.25px #231815;transform:translate(387.69px,157.94px) scale(0.8700,1);">7</b>
<b style="font-size:11px;color:#231815;font-weight:700;-webkit-text-stroke:0.25px #231815;transform:translate(312.89px,176.51px) scale(0.8700,1);">2</b>
<b style="font-size:11px;color:#231815;font-weight:700;-webkit-text-stroke:0.25px #231815;transform:translate(331.59px,176.51px) scale(0.8700,1);">3</b>
<b style="font-size:11px;color:#231815;font-weight:700;-webkit-text-stroke:0.25px #231815;transform:translate(350.29px,176.51px) scale(0.8700,1);">3</b>
<b style="font-size:11px;color:#231815;font-weight:700;-webkit-text-stroke:0.25px #231815;transform:translate(368.99px,176.51px) scale(0.8700,1);">4</b>
<b style="font-size:11px;color:#231815;font-weight:700;-webkit-text-stroke:0.25px #231815;transform:translate(387.69px,176.51px) scale(0.8700,1);">5</b>
<b style="font-size:11px;color:#ffffff;font-weight:700;-webkit-text-stroke:0.25px #ffffff;transform:translate(416.28px,120.79px) scale(0.8600,1);">15</b>
<b style="font-size:11px;color:#ffffff;font-weight:700;-webkit-text-stroke:0.25px #ffffff;transform:translate(434.98px,120.79px) scale(0.8600,1);">17</b>
<b style="font-size:11px;color:#ffffff;font-weight:700;-webkit-text-stroke:0.25px #ffffff;transform:translate(453.68px,120.79px) scale(0.8600,1);">20</b>
<b style="font-size:11px;color:#ffffff;font-weight:700;-webkit-text-stroke:0.25px #ffffff;transform:translate(472.38px,120.79px) scale(0.8600,1);">23</b>
<b style="font-size:11px;color:#ffffff;font-weight:700;-webkit-text-stroke:0.25px #ffffff;transform:translate(491.08px,120.79px) scale(0.8600,1);">26</b>
<b style="font-size:11px;color:#ffffff;font-weight:700;-webkit-text-stroke:0.25px #ffffff;transform:translate(416.28px,139.36px) scale(0.8600,1);">10</b>
<b style="font-size:11px;color:#ffffff;font-weight:700;-webkit-text-stroke:0.25px #ffffff;transform:translate(434.98px,139.36px) scale(0.8600,1);">12</b>
<b style="font-size:11px;color:#ffffff;font-weight:700;-webkit-text-stroke:0.25px #ffffff;transform:translate(453.68px,139.36px) scale(0.8600,1);">14</b>
<b style="font-size:11px;color:#ffffff;font-weight:700;-webkit-text-stroke:0.25px #ffffff;transform:translate(472.38px,139.36px) scale(0.8600,1);">16</b>
<b style="font-size:11px;color:#ffffff;font-weight:700;-webkit-text-stroke:0.25px #ffffff;transform:translate(491.08px,139.36px) scale(0.8600,1);">19</b>
<b style="font-size:11px;color:#231815;font-weight:700;-webkit-text-stroke:0.25px #231815;transform:translate(418.89px,157.94px) scale(0.8700,1);">7</b>
<b style="font-size:11px;color:#231815;font-weight:700;-webkit-text-stroke:0.25px #231815;transform:translate(437.59px,157.94px) scale(0.8700,1);">8</b>
<b style="font-size:11px;color:#231815;font-weight:700;-webkit-text-stroke:0.25px #231815;transform:translate(456.29px,157.94px) scale(0.8700,1);">9</b>
<b style="font-size:11px;color:#ffffff;font-weight:700;-webkit-text-stroke:0.25px #ffffff;transform:translate(472.64px,157.94px) scale(0.8600,1);">11</b>
<b style="font-size:11px;color:#ffffff;font-weight:700;-webkit-text-stroke:0.25px #ffffff;transform:translate(491.08px,157.94px) scale(0.8600,1);">13</b>
<b style="font-size:11px;color:#231815;font-weight:700;-webkit-text-stroke:0.25px #231815;transform:translate(418.89px,176.51px) scale(0.8700,1);">5</b>
<b style="font-size:11px;color:#231815;font-weight:700;-webkit-text-stroke:0.25px #231815;transform:translate(437.59px,176.51px) scale(0.8700,1);">5</b>
<b style="font-size:11px;color:#231815;font-weight:700;-webkit-text-stroke:0.25px #231815;transform:translate(456.29px,176.51px) scale(0.8700,1);">6</b>
<b style="font-size:11px;color:#231815;font-weight:700;-webkit-text-stroke:0.25px #231815;transform:translate(474.99px,176.51px) scale(0.8700,1);">8</b>
<b style="font-size:11px;color:#231815;font-weight:700;-webkit-text-stroke:0.25px #231815;transform:translate(493.69px,176.51px) scale(0.8700,1);">9</b>
<b style="font-size:10.3px;color:#111;-webkit-text-stroke:0.3px #111;transform:translate(32.00px,120.94px) scale(1.0240,1);">180</b>
<b style="font-size:10.3px;color:#111;-webkit-text-stroke:0.3px #111;transform:translate(32.00px,139.51px) scale(1.0240,1);">160</b>
<b style="font-size:10.3px;color:#111;-webkit-text-stroke:0.3px #111;transform:translate(32.00px,158.09px) scale(1.0240,1);">140</b>
<b style="font-size:10.3px;color:#111;-webkit-text-stroke:0.3px #111;transform:translate(32.00px,176.66px) scale(1.0240,1);">120</b>
<b style="font-size:11px;color:#231815;font-weight:700;-webkit-text-stroke:0.25px #231815;transform:translate(60.89px,211.22px) scale(0.8700,1);">3</b>
<b style="font-size:11px;color:#231815;font-weight:700;-webkit-text-stroke:0.25px #231815;transform:translate(79.59px,211.22px) scale(0.8700,1);">3</b>
<b style="font-size:11px;color:#231815;font-weight:700;-webkit-text-stroke:0.25px #231815;transform:translate(98.29px,211.22px) scale(0.8700,1);">3</b>
<b style="font-size:11px;color:#231815;font-weight:700;-webkit-text-stroke:0.25px #231815;transform:translate(116.99px,211.22px) scale(0.8700,1);">4</b>
<b style="font-size:11px;color:#231815;font-weight:700;-webkit-text-stroke:0.25px #231815;transform:translate(135.69px,211.22px) scale(0.8700,1);">4</b>
<b style="font-size:11px;color:#231815;font-weight:700;-webkit-text-stroke:0.25px #231815;transform:translate(60.89px,229.68px) scale(0.8700,1);">2</b>
<b style="font-size:11px;color:#231815;font-weight:700;-webkit-text-stroke:0.25px #231815;transform:translate(79.59px,229.68px) scale(0.8700,1);">2</b>
<b style="font-size:11px;color:#231815;font-weight:700;-webkit-text-stroke:0.25px #231815;transform:translate(98.29px,229.68px) scale(0.8700,1);">2</b>
<b style="font-size:11px;color:#231815;font-weight:700;-webkit-text-stroke:0.25px #231815;transform:translate(116.99px,229.68px) scale(0.8700,1);">2</b>
<b style="font-size:11px;color:#231815;font-weight:700;-webkit-text-stroke:0.25px #231815;transform:translate(135.69px,229.68px) scale(0.8700,1);">3</b>
<b style="font-size:11px;color:#231815;font-weight:700;-webkit-text-stroke:0.25px #231815;transform:translate(60.89px,248.12px) scale(0.8700,1);">1</b>
<b style="font-size:11px;color:#231815;font-weight:700;-webkit-text-stroke:0.25px #231815;transform:translate(79.59px,248.12px) scale(0.8700,1);">1</b>
<b style="font-size:11px;color:#231815;font-weight:700;-webkit-text-stroke:0.25px #231815;transform:translate(98.29px,248.12px) scale(0.8700,1);">1</b>
<b style="font-size:11px;color:#231815;font-weight:700;-webkit-text-stroke:0.25px #231815;transform:translate(116.99px,248.12px) scale(0.8700,1);">2</b>
<b style="font-size:11px;color:#231815;font-weight:700;-webkit-text-stroke:0.25px #231815;transform:translate(135.69px,248.12px) scale(0.8700,1);">2</b>
<b style="font-size:11px;color:#231815;font-weight:700;-webkit-text-stroke:0.25px #231815;transform:translate(60.89px,266.58px) scale(0.8700,1);">1</b>
<b style="font-size:11px;color:#231815;font-weight:700;-webkit-text-stroke:0.25px #231815;transform:translate(79.59px,266.58px) scale(0.8700,1);">1</b>
<b style="font-size:11px;color:#231815;font-weight:700;-webkit-text-stroke:0.25px #231815;transform:translate(98.29px,266.58px) scale(0.8700,1);">1</b>
<b style="font-size:11px;color:#231815;font-weight:700;-webkit-text-stroke:0.25px #231815;transform:translate(116.99px,266.58px) scale(0.8700,1);">1</b>
<b style="font-size:11px;color:#231815;font-weight:700;-webkit-text-stroke:0.25px #231815;transform:translate(135.69px,266.58px) scale(0.8700,1);">1</b>
<b style="font-size:11px;color:#231815;font-weight:700;-webkit-text-stroke:0.25px #231815;transform:translate(166.19px,211.22px) scale(0.8700,1);">5</b>
<b style="font-size:11px;color:#231815;font-weight:700;-webkit-text-stroke:0.25px #231815;transform:translate(184.89px,211.22px) scale(0.8700,1);">5</b>
<b style="font-size:11px;color:#231815;font-weight:700;-webkit-text-stroke:0.25px #231815;transform:translate(203.59px,211.22px) scale(0.8700,1);">6</b>
<b style="font-size:11px;color:#231815;font-weight:700;-webkit-text-stroke:0.25px #231815;transform:translate(222.29px,211.22px) scale(0.8700,1);">7</b>
<b style="font-size:11px;color:#231815;font-weight:700;-webkit-text-stroke:0.25px #231815;transform:translate(240.99px,211.22px) scale(0.8700,1);">8</b>
<b style="font-size:11px;color:#231815;font-weight:700;-webkit-text-stroke:0.25px #231815;transform:translate(166.19px,229.68px) scale(0.8700,1);">3</b>
<b style="font-size:11px;color:#231815;font-weight:700;-webkit-text-stroke:0.25px #231815;transform:translate(184.89px,229.68px) scale(0.8700,1);">4</b>
<b style="font-size:11px;color:#231815;font-weight:700;-webkit-text-stroke:0.25px #231815;transform:translate(203.59px,229.68px) scale(0.8700,1);">4</b>
<b style="font-size:11px;color:#231815;font-weight:700;-webkit-text-stroke:0.25px #231815;transform:translate(222.29px,229.68px) scale(0.8700,1);">5</b>
<b style="font-size:11px;color:#231815;font-weight:700;-webkit-text-stroke:0.25px #231815;transform:translate(240.99px,229.68px) scale(0.8700,1);">5</b>
<b style="font-size:11px;color:#231815;font-weight:700;-webkit-text-stroke:0.25px #231815;transform:translate(166.19px,248.12px) scale(0.8700,1);">2</b>
<b style="font-size:11px;color:#231815;font-weight:700;-webkit-text-stroke:0.25px #231815;transform:translate(184.89px,248.12px) scale(0.8700,1);">2</b>
<b style="font-size:11px;color:#231815;font-weight:700;-webkit-text-stroke:0.25px #231815;transform:translate(203.59px,248.12px) scale(0.8700,1);">3</b>
<b style="font-size:11px;color:#231815;font-weight:700;-webkit-text-stroke:0.25px #231815;transform:translate(222.29px,248.12px) scale(0.8700,1);">3</b>
<b style="font-size:11px;color:#231815;font-weight:700;-webkit-text-stroke:0.25px #231815;transform:translate(240.99px,248.12px) scale(0.8700,1);">4</b>
<b style="font-size:11px;color:#231815;font-weight:700;-webkit-text-stroke:0.25px #231815;transform:translate(166.19px,266.58px) scale(0.8700,1);">1</b>
<b style="font-size:11px;color:#231815;font-weight:700;-webkit-text-stroke:0.25px #231815;transform:translate(184.89px,266.58px) scale(0.8700,1);">2</b>
<b style="font-size:11px;color:#231815;font-weight:700;-webkit-text-stroke:0.25px #231815;transform:translate(203.59px,266.58px) scale(0.8700,1);">2</b>
<b style="font-size:11px;color:#231815;font-weight:700;-webkit-text-stroke:0.25px #231815;transform:translate(222.29px,266.58px) scale(0.8700,1);">2</b>
<b style="font-size:11px;color:#231815;font-weight:700;-webkit-text-stroke:0.25px #231815;transform:translate(240.99px,266.58px) scale(0.8700,1);">3</b>
<b style="font-size:11px;color:#231815;font-weight:700;-webkit-text-stroke:0.25px #231815;transform:translate(312.89px,211.22px) scale(0.8700,1);">5</b>
<b style="font-size:11px;color:#231815;font-weight:700;-webkit-text-stroke:0.25px #231815;transform:translate(331.59px,211.22px) scale(0.8700,1);">6</b>
<b style="font-size:11px;color:#231815;font-weight:700;-webkit-text-stroke:0.25px #231815;transform:translate(350.29px,211.22px) scale(0.8700,1);">7</b>
<b style="font-size:11px;color:#231815;font-weight:700;-webkit-text-stroke:0.25px #231815;transform:translate(368.99px,211.22px) scale(0.8700,1);">8</b>
<b style="font-size:11px;color:#231815;font-weight:700;-webkit-text-stroke:0.25px #231815;transform:translate(387.69px,211.22px) scale(0.8700,1);">9</b>
<b style="font-size:11px;color:#231815;font-weight:700;-webkit-text-stroke:0.25px #231815;transform:translate(312.89px,229.68px) scale(0.8700,1);">3</b>
<b style="font-size:11px;color:#231815;font-weight:700;-webkit-text-stroke:0.25px #231815;transform:translate(331.59px,229.68px) scale(0.8700,1);">4</b>
<b style="font-size:11px;color:#231815;font-weight:700;-webkit-text-stroke:0.25px #231815;transform:translate(350.29px,229.68px) scale(0.8700,1);">5</b>
<b style="font-size:11px;color:#231815;font-weight:700;-webkit-text-stroke:0.25px #231815;transform:translate(368.99px,229.68px) scale(0.8700,1);">5</b>
<b style="font-size:11px;color:#231815;font-weight:700;-webkit-text-stroke:0.25px #231815;transform:translate(387.69px,229.68px) scale(0.8700,1);">6</b>
<b style="font-size:11px;color:#231815;font-weight:700;-webkit-text-stroke:0.25px #231815;transform:translate(312.89px,248.12px) scale(0.8700,1);">2</b>
<b style="font-size:11px;color:#231815;font-weight:700;-webkit-text-stroke:0.25px #231815;transform:translate(331.59px,248.12px) scale(0.8700,1);">3</b>
<b style="font-size:11px;color:#231815;font-weight:700;-webkit-text-stroke:0.25px #231815;transform:translate(350.29px,248.12px) scale(0.8700,1);">3</b>
<b style="font-size:11px;color:#231815;font-weight:700;-webkit-text-stroke:0.25px #231815;transform:translate(368.99px,248.12px) scale(0.8700,1);">4</b>
<b style="font-size:11px;color:#231815;font-weight:700;-webkit-text-stroke:0.25px #231815;transform:translate(387.69px,248.12px) scale(0.8700,1);">4</b>
<b style="font-size:11px;color:#231815;font-weight:700;-webkit-text-stroke:0.25px #231815;transform:translate(312.89px,266.58px) scale(0.8700,1);">2</b>
<b style="font-size:11px;color:#231815;font-weight:700;-webkit-text-stroke:0.25px #231815;transform:translate(331.59px,266.58px) scale(0.8700,1);">2</b>
<b style="font-size:11px;color:#231815;font-weight:700;-webkit-text-stroke:0.25px #231815;transform:translate(350.29px,266.58px) scale(0.8700,1);">2</b>
<b style="font-size:11px;color:#231815;font-weight:700;-webkit-text-stroke:0.25px #231815;transform:translate(368.99px,266.58px) scale(0.8700,1);">3</b>
<b style="font-size:11px;color:#231815;font-weight:700;-webkit-text-stroke:0.25px #231815;transform:translate(387.69px,266.58px) scale(0.8700,1);">3</b>
<b style="font-size:11px;color:#ffffff;font-weight:700;-webkit-text-stroke:0.25px #ffffff;transform:translate(416.28px,211.22px) scale(0.8600,1);">10</b>
<b style="font-size:11px;color:#ffffff;font-weight:700;-webkit-text-stroke:0.25px #ffffff;transform:translate(435.24px,211.22px) scale(0.8600,1);">11</b>
<b style="font-size:11px;color:#ffffff;font-weight:700;-webkit-text-stroke:0.25px #ffffff;transform:translate(453.68px,211.22px) scale(0.8600,1);">13</b>
<b style="font-size:11px;color:#ffffff;font-weight:700;-webkit-text-stroke:0.25px #ffffff;transform:translate(472.38px,211.22px) scale(0.8600,1);">15</b>
<b style="font-size:11px;color:#ffffff;font-weight:700;-webkit-text-stroke:0.25px #ffffff;transform:translate(491.08px,211.22px) scale(0.8600,1);">18</b>
<b style="font-size:11px;color:#231815;font-weight:700;-webkit-text-stroke:0.25px #231815;transform:translate(418.89px,229.68px) scale(0.8700,1);">7</b>
<b style="font-size:11px;color:#231815;font-weight:700;-webkit-text-stroke:0.25px #231815;transform:translate(437.59px,229.68px) scale(0.8700,1);">8</b>
<b style="font-size:11px;color:#231815;font-weight:700;-webkit-text-stroke:0.25px #231815;transform:translate(456.29px,229.68px) scale(0.8700,1);">9</b>
<b style="font-size:11px;color:#ffffff;font-weight:700;-webkit-text-stroke:0.25px #ffffff;transform:translate(472.64px,229.68px) scale(0.8600,1);">11</b>
<b style="font-size:11px;color:#ffffff;font-weight:700;-webkit-text-stroke:0.25px #ffffff;transform:translate(491.08px,229.68px) scale(0.8600,1);">13</b>
<b style="font-size:11px;color:#231815;font-weight:700;-webkit-text-stroke:0.25px #231815;transform:translate(418.89px,248.12px) scale(0.8700,1);">5</b>
<b style="font-size:11px;color:#231815;font-weight:700;-webkit-text-stroke:0.25px #231815;transform:translate(437.59px,248.12px) scale(0.8700,1);">5</b>
<b style="font-size:11px;color:#231815;font-weight:700;-webkit-text-stroke:0.25px #231815;transform:translate(456.29px,248.12px) scale(0.8700,1);">6</b>
<b style="font-size:11px;color:#231815;font-weight:700;-webkit-text-stroke:0.25px #231815;transform:translate(474.99px,248.12px) scale(0.8700,1);">7</b>
<b style="font-size:11px;color:#231815;font-weight:700;-webkit-text-stroke:0.25px #231815;transform:translate(493.69px,248.12px) scale(0.8700,1);">9</b>
<b style="font-size:11px;color:#231815;font-weight:700;-webkit-text-stroke:0.25px #231815;transform:translate(418.89px,266.58px) scale(0.8700,1);">3</b>
<b style="font-size:11px;color:#231815;font-weight:700;-webkit-text-stroke:0.25px #231815;transform:translate(437.59px,266.58px) scale(0.8700,1);">4</b>
<b style="font-size:11px;color:#231815;font-weight:700;-webkit-text-stroke:0.25px #231815;transform:translate(456.29px,266.58px) scale(0.8700,1);">4</b>
<b style="font-size:11px;color:#231815;font-weight:700;-webkit-text-stroke:0.25px #231815;transform:translate(474.99px,266.58px) scale(0.8700,1);">5</b>
<b style="font-size:11px;color:#231815;font-weight:700;-webkit-text-stroke:0.25px #231815;transform:translate(493.69px,266.58px) scale(0.8700,1);">6</b>
<b style="font-size:10.3px;color:#111;-webkit-text-stroke:0.3px #111;transform:translate(32.00px,211.38px) scale(1.0240,1);">180</b>
<b style="font-size:10.3px;color:#111;-webkit-text-stroke:0.3px #111;transform:translate(32.00px,229.83px) scale(1.0240,1);">160</b>
<b style="font-size:10.3px;color:#111;-webkit-text-stroke:0.3px #111;transform:translate(32.00px,248.28px) scale(1.0240,1);">140</b>
<b style="font-size:10.3px;color:#111;-webkit-text-stroke:0.3px #111;transform:translate(32.00px,266.73px) scale(1.0240,1);">120</b>
<b style="font-size:11px;color:#231815;font-weight:700;-webkit-text-stroke:0.25px #231815;transform:translate(60.89px,301.44px) scale(0.8700,1);">1</b>
<b style="font-size:11px;color:#231815;font-weight:700;-webkit-text-stroke:0.25px #231815;transform:translate(79.59px,301.44px) scale(0.8700,1);">1</b>
<b style="font-size:11px;color:#231815;font-weight:700;-webkit-text-stroke:0.25px #231815;transform:translate(98.29px,301.44px) scale(0.8700,1);">2</b>
<b style="font-size:11px;color:#231815;font-weight:700;-webkit-text-stroke:0.25px #231815;transform:translate(116.99px,301.44px) scale(0.8700,1);">2</b>
<b style="font-size:11px;color:#231815;font-weight:700;-webkit-text-stroke:0.25px #231815;transform:translate(135.69px,301.44px) scale(0.8700,1);">2</b>
<b style="font-size:11px;color:#231815;font-weight:700;-webkit-text-stroke:0.25px #231815;transform:translate(60.89px,319.91px) scale(0.8700,1);">1</b>
<b style="font-size:11px;color:#231815;font-weight:700;-webkit-text-stroke:0.25px #231815;transform:translate(79.59px,319.91px) scale(0.8700,1);">1</b>
<b style="font-size:11px;color:#231815;font-weight:700;-webkit-text-stroke:0.25px #231815;transform:translate(98.29px,319.91px) scale(0.8700,1);">1</b>
<b style="font-size:11px;color:#231815;font-weight:700;-webkit-text-stroke:0.25px #231815;transform:translate(116.99px,319.91px) scale(0.8700,1);">1</b>
<b style="font-size:11px;color:#231815;font-weight:700;-webkit-text-stroke:0.25px #231815;transform:translate(135.69px,319.91px) scale(0.8700,1);">1</b>
<b style="font-size:11px;color:#231815;font-weight:700;-webkit-text-stroke:0.25px #231815;transform:translate(60.89px,338.39px) scale(0.8700,1);">1</b>
<b style="font-size:11px;color:#231815;font-weight:700;-webkit-text-stroke:0.25px #231815;transform:translate(79.59px,338.39px) scale(0.8700,1);">1</b>
<b style="font-size:11px;color:#231815;font-weight:700;-webkit-text-stroke:0.25px #231815;transform:translate(98.29px,338.39px) scale(0.8700,1);">1</b>
<b style="font-size:11px;color:#231815;font-weight:700;-webkit-text-stroke:0.25px #231815;transform:translate(116.99px,338.39px) scale(0.8700,1);">1</b>
<b style="font-size:11px;color:#231815;font-weight:700;-webkit-text-stroke:0.25px #231815;transform:translate(135.69px,338.39px) scale(0.8700,1);">1</b>
<b style="font-size:11px;color:#ffffff;font-weight:700;-webkit-text-stroke:0.25px #ffffff;transform:translate(60.89px,356.86px) scale(0.8700,1);">0</b>
<b style="font-size:11px;color:#ffffff;font-weight:700;-webkit-text-stroke:0.25px #ffffff;transform:translate(79.59px,356.86px) scale(0.8700,1);">0</b>
<b style="font-size:11px;color:#231815;font-weight:700;-webkit-text-stroke:0.25px #231815;transform:translate(98.29px,356.86px) scale(0.8700,1);">1</b>
<b style="font-size:11px;color:#231815;font-weight:700;-webkit-text-stroke:0.25px #231815;transform:translate(116.99px,356.86px) scale(0.8700,1);">1</b>
<b style="font-size:11px;color:#231815;font-weight:700;-webkit-text-stroke:0.25px #231815;transform:translate(135.69px,356.86px) scale(0.8700,1);">1</b>
<b style="font-size:11px;color:#231815;font-weight:700;-webkit-text-stroke:0.25px #231815;transform:translate(166.19px,301.44px) scale(0.8700,1);">3</b>
<b style="font-size:11px;color:#231815;font-weight:700;-webkit-text-stroke:0.25px #231815;transform:translate(184.89px,301.44px) scale(0.8700,1);">3</b>
<b style="font-size:11px;color:#231815;font-weight:700;-webkit-text-stroke:0.25px #231815;transform:translate(203.59px,301.44px) scale(0.8700,1);">3</b>
<b style="font-size:11px;color:#231815;font-weight:700;-webkit-text-stroke:0.25px #231815;transform:translate(222.29px,301.44px) scale(0.8700,1);">4</b>
<b style="font-size:11px;color:#231815;font-weight:700;-webkit-text-stroke:0.25px #231815;transform:translate(240.99px,301.44px) scale(0.8700,1);">4</b>
<b style="font-size:11px;color:#231815;font-weight:700;-webkit-text-stroke:0.25px #231815;transform:translate(166.19px,319.91px) scale(0.8700,1);">2</b>
<b style="font-size:11px;color:#231815;font-weight:700;-webkit-text-stroke:0.25px #231815;transform:translate(184.89px,319.91px) scale(0.8700,1);">2</b>
<b style="font-size:11px;color:#231815;font-weight:700;-webkit-text-stroke:0.25px #231815;transform:translate(203.59px,319.91px) scale(0.8700,1);">2</b>
<b style="font-size:11px;color:#231815;font-weight:700;-webkit-text-stroke:0.25px #231815;transform:translate(222.29px,319.91px) scale(0.8700,1);">3</b>
<b style="font-size:11px;color:#231815;font-weight:700;-webkit-text-stroke:0.25px #231815;transform:translate(240.99px,319.91px) scale(0.8700,1);">3</b>
<b style="font-size:11px;color:#231815;font-weight:700;-webkit-text-stroke:0.25px #231815;transform:translate(166.19px,338.39px) scale(0.8700,1);">1</b>
<b style="font-size:11px;color:#231815;font-weight:700;-webkit-text-stroke:0.25px #231815;transform:translate(184.89px,338.39px) scale(0.8700,1);">1</b>
<b style="font-size:11px;color:#231815;font-weight:700;-webkit-text-stroke:0.25px #231815;transform:translate(203.59px,338.39px) scale(0.8700,1);">1</b>
<b style="font-size:11px;color:#231815;font-weight:700;-webkit-text-stroke:0.25px #231815;transform:translate(222.29px,338.39px) scale(0.8700,1);">2</b>
<b style="font-size:11px;color:#231815;font-weight:700;-webkit-text-stroke:0.25px #231815;transform:translate(240.99px,338.39px) scale(0.8700,1);">2</b>
<b style="font-size:11px;color:#231815;font-weight:700;-webkit-text-stroke:0.25px #231815;transform:translate(166.19px,356.86px) scale(0.8700,1);">1</b>
<b style="font-size:11px;color:#231815;font-weight:700;-webkit-text-stroke:0.25px #231815;transform:translate(184.89px,356.86px) scale(0.8700,1);">1</b>
<b style="font-size:11px;color:#231815;font-weight:700;-webkit-text-stroke:0.25px #231815;transform:translate(203.59px,356.86px) scale(0.8700,1);">1</b>
<b style="font-size:11px;color:#231815;font-weight:700;-webkit-text-stroke:0.25px #231815;transform:translate(222.29px,356.86px) scale(0.8700,1);">1</b>
<b style="font-size:11px;color:#231815;font-weight:700;-webkit-text-stroke:0.25px #231815;transform:translate(240.99px,356.86px) scale(0.8700,1);">1</b>
<b style="font-size:11px;color:#231815;font-weight:700;-webkit-text-stroke:0.25px #231815;transform:translate(312.89px,301.44px) scale(0.8700,1);">3</b>
<b style="font-size:11px;color:#231815;font-weight:700;-webkit-text-stroke:0.25px #231815;transform:translate(331.59px,301.44px) scale(0.8700,1);">4</b>
<b style="font-size:11px;color:#231815;font-weight:700;-webkit-text-stroke:0.25px #231815;transform:translate(350.29px,301.44px) scale(0.8700,1);">4</b>
<b style="font-size:11px;color:#231815;font-weight:700;-webkit-text-stroke:0.25px #231815;transform:translate(368.99px,301.44px) scale(0.8700,1);">5</b>
<b style="font-size:11px;color:#231815;font-weight:700;-webkit-text-stroke:0.25px #231815;transform:translate(387.69px,301.44px) scale(0.8700,1);">6</b>
<b style="font-size:11px;color:#231815;font-weight:700;-webkit-text-stroke:0.25px #231815;transform:translate(312.89px,319.91px) scale(0.8700,1);">2</b>
<b style="font-size:11px;color:#231815;font-weight:700;-webkit-text-stroke:0.25px #231815;transform:translate(331.59px,319.91px) scale(0.8700,1);">2</b>
<b style="font-size:11px;color:#231815;font-weight:700;-webkit-text-stroke:0.25px #231815;transform:translate(350.29px,319.91px) scale(0.8700,1);">3</b>
<b style="font-size:11px;color:#231815;font-weight:700;-webkit-text-stroke:0.25px #231815;transform:translate(368.99px,319.91px) scale(0.8700,1);">3</b>
<b style="font-size:11px;color:#231815;font-weight:700;-webkit-text-stroke:0.25px #231815;transform:translate(387.69px,319.91px) scale(0.8700,1);">4</b>
<b style="font-size:11px;color:#231815;font-weight:700;-webkit-text-stroke:0.25px #231815;transform:translate(312.89px,338.39px) scale(0.8700,1);">1</b>
<b style="font-size:11px;color:#231815;font-weight:700;-webkit-text-stroke:0.25px #231815;transform:translate(331.59px,338.39px) scale(0.8700,1);">2</b>
<b style="font-size:11px;color:#231815;font-weight:700;-webkit-text-stroke:0.25px #231815;transform:translate(350.29px,338.39px) scale(0.8700,1);">2</b>
<b style="font-size:11px;color:#231815;font-weight:700;-webkit-text-stroke:0.25px #231815;transform:translate(368.99px,338.39px) scale(0.8700,1);">2</b>
<b style="font-size:11px;color:#231815;font-weight:700;-webkit-text-stroke:0.25px #231815;transform:translate(387.69px,338.39px) scale(0.8700,1);">3</b>
<b style="font-size:11px;color:#231815;font-weight:700;-webkit-text-stroke:0.25px #231815;transform:translate(312.89px,356.86px) scale(0.8700,1);">1</b>
<b style="font-size:11px;color:#231815;font-weight:700;-webkit-text-stroke:0.25px #231815;transform:translate(331.59px,356.86px) scale(0.8700,1);">1</b>
<b style="font-size:11px;color:#231815;font-weight:700;-webkit-text-stroke:0.25px #231815;transform:translate(350.29px,356.86px) scale(0.8700,1);">1</b>
<b style="font-size:11px;color:#231815;font-weight:700;-webkit-text-stroke:0.25px #231815;transform:translate(368.99px,356.86px) scale(0.8700,1);">2</b>
<b style="font-size:11px;color:#231815;font-weight:700;-webkit-text-stroke:0.25px #231815;transform:translate(387.69px,356.86px) scale(0.8700,1);">2</b>
<b style="font-size:11px;color:#231815;font-weight:700;-webkit-text-stroke:0.25px #231815;transform:translate(418.89px,301.44px) scale(0.8700,1);">6</b>
<b style="font-size:11px;color:#231815;font-weight:700;-webkit-text-stroke:0.25px #231815;transform:translate(437.59px,301.44px) scale(0.8700,1);">7</b>
<b style="font-size:11px;color:#231815;font-weight:700;-webkit-text-stroke:0.25px #231815;transform:translate(456.29px,301.44px) scale(0.8700,1);">8</b>
<b style="font-size:11px;color:#ffffff;font-weight:700;-webkit-text-stroke:0.25px #ffffff;transform:translate(472.38px,301.44px) scale(0.8600,1);">10</b>
<b style="font-size:11px;color:#ffffff;font-weight:700;-webkit-text-stroke:0.25px #ffffff;transform:translate(491.08px,301.44px) scale(0.8600,1);">12</b>
<b style="font-size:11px;color:#231815;font-weight:700;-webkit-text-stroke:0.25px #231815;transform:translate(418.89px,319.91px) scale(0.8700,1);">4</b>
<b style="font-size:11px;color:#231815;font-weight:700;-webkit-text-stroke:0.25px #231815;transform:translate(437.59px,319.91px) scale(0.8700,1);">5</b>
<b style="font-size:11px;color:#231815;font-weight:700;-webkit-text-stroke:0.25px #231815;transform:translate(456.29px,319.91px) scale(0.8700,1);">6</b>
<b style="font-size:11px;color:#231815;font-weight:700;-webkit-text-stroke:0.25px #231815;transform:translate(474.99px,319.91px) scale(0.8700,1);">7</b>
<b style="font-size:11px;color:#231815;font-weight:700;-webkit-text-stroke:0.25px #231815;transform:translate(493.69px,319.91px) scale(0.8700,1);">8</b>
<b style="font-size:11px;color:#231815;font-weight:700;-webkit-text-stroke:0.25px #231815;transform:translate(418.89px,338.39px) scale(0.8700,1);">3</b>
<b style="font-size:11px;color:#231815;font-weight:700;-webkit-text-stroke:0.25px #231815;transform:translate(437.59px,338.39px) scale(0.8700,1);">3</b>
<b style="font-size:11px;color:#231815;font-weight:700;-webkit-text-stroke:0.25px #231815;transform:translate(456.29px,338.39px) scale(0.8700,1);">4</b>
<b style="font-size:11px;color:#231815;font-weight:700;-webkit-text-stroke:0.25px #231815;transform:translate(474.99px,338.39px) scale(0.8700,1);">5</b>
<b style="font-size:11px;color:#231815;font-weight:700;-webkit-text-stroke:0.25px #231815;transform:translate(493.69px,338.39px) scale(0.8700,1);">6</b>
<b style="font-size:11px;color:#231815;font-weight:700;-webkit-text-stroke:0.25px #231815;transform:translate(418.89px,356.86px) scale(0.8700,1);">2</b>
<b style="font-size:11px;color:#231815;font-weight:700;-webkit-text-stroke:0.25px #231815;transform:translate(437.59px,356.86px) scale(0.8700,1);">2</b>
<b style="font-size:11px;color:#231815;font-weight:700;-webkit-text-stroke:0.25px #231815;transform:translate(456.29px,356.86px) scale(0.8700,1);">3</b>
<b style="font-size:11px;color:#231815;font-weight:700;-webkit-text-stroke:0.25px #231815;transform:translate(474.99px,356.86px) scale(0.8700,1);">3</b>
<b style="font-size:11px;color:#231815;font-weight:700;-webkit-text-stroke:0.25px #231815;transform:translate(493.69px,356.86px) scale(0.8700,1);">4</b>
<b style="font-size:10.3px;color:#111;-webkit-text-stroke:0.3px #111;transform:translate(32.00px,301.59px) scale(1.0240,1);">180</b>
<b style="font-size:10.3px;color:#111;-webkit-text-stroke:0.3px #111;transform:translate(32.00px,320.06px) scale(1.0240,1);">160</b>
<b style="font-size:10.3px;color:#111;-webkit-text-stroke:0.3px #111;transform:translate(32.00px,338.54px) scale(1.0240,1);">140</b>
<b style="font-size:10.3px;color:#111;-webkit-text-stroke:0.3px #111;transform:translate(32.00px,357.01px) scale(1.0240,1);">120</b>
<b style="font-size:11px;color:#231815;font-weight:700;-webkit-text-stroke:0.25px #231815;transform:translate(60.89px,393.74px) scale(0.8700,1);">1</b>
<b style="font-size:11px;color:#231815;font-weight:700;-webkit-text-stroke:0.25px #231815;transform:translate(79.59px,393.74px) scale(0.8700,1);">1</b>
<b style="font-size:11px;color:#231815;font-weight:700;-webkit-text-stroke:0.25px #231815;transform:translate(98.29px,393.74px) scale(0.8700,1);">1</b>
<b style="font-size:11px;color:#231815;font-weight:700;-webkit-text-stroke:0.25px #231815;transform:translate(116.99px,393.74px) scale(0.8700,1);">1</b>
<b style="font-size:11px;color:#231815;font-weight:700;-webkit-text-stroke:0.25px #231815;transform:translate(135.69px,393.74px) scale(0.8700,1);">1</b>
<b style="font-size:11px;color:#ffffff;font-weight:700;-webkit-text-stroke:0.25px #ffffff;transform:translate(60.89px,412.21px) scale(0.8700,1);">0</b>
<b style="font-size:11px;color:#ffffff;font-weight:700;-webkit-text-stroke:0.25px #ffffff;transform:translate(79.59px,412.21px) scale(0.8700,1);">0</b>
<b style="font-size:11px;color:#231815;font-weight:700;-webkit-text-stroke:0.25px #231815;transform:translate(98.29px,412.21px) scale(0.8700,1);">1</b>
<b style="font-size:11px;color:#231815;font-weight:700;-webkit-text-stroke:0.25px #231815;transform:translate(116.99px,412.21px) scale(0.8700,1);">1</b>
<b style="font-size:11px;color:#231815;font-weight:700;-webkit-text-stroke:0.25px #231815;transform:translate(135.69px,412.21px) scale(0.8700,1);">1</b>
<b style="font-size:11px;color:#ffffff;font-weight:700;-webkit-text-stroke:0.25px #ffffff;transform:translate(60.89px,430.69px) scale(0.8700,1);">0</b>
<b style="font-size:11px;color:#ffffff;font-weight:700;-webkit-text-stroke:0.25px #ffffff;transform:translate(79.59px,430.69px) scale(0.8700,1);">0</b>
<b style="font-size:11px;color:#ffffff;font-weight:700;-webkit-text-stroke:0.25px #ffffff;transform:translate(98.29px,430.69px) scale(0.8700,1);">0</b>
<b style="font-size:11px;color:#ffffff;font-weight:700;-webkit-text-stroke:0.25px #ffffff;transform:translate(116.99px,430.69px) scale(0.8700,1);">0</b>
<b style="font-size:11px;color:#ffffff;font-weight:700;-webkit-text-stroke:0.25px #ffffff;transform:translate(135.69px,430.69px) scale(0.8700,1);">0</b>
<b style="font-size:11px;color:#ffffff;font-weight:700;-webkit-text-stroke:0.25px #ffffff;transform:translate(60.89px,449.16px) scale(0.8700,1);">0</b>
<b style="font-size:11px;color:#ffffff;font-weight:700;-webkit-text-stroke:0.25px #ffffff;transform:translate(79.59px,449.16px) scale(0.8700,1);">0</b>
<b style="font-size:11px;color:#ffffff;font-weight:700;-webkit-text-stroke:0.25px #ffffff;transform:translate(98.29px,449.16px) scale(0.8700,1);">0</b>
<b style="font-size:11px;color:#ffffff;font-weight:700;-webkit-text-stroke:0.25px #ffffff;transform:translate(116.99px,449.16px) scale(0.8700,1);">0</b>
<b style="font-size:11px;color:#ffffff;font-weight:700;-webkit-text-stroke:0.25px #ffffff;transform:translate(135.69px,449.16px) scale(0.8700,1);">0</b>
<b style="font-size:11px;color:#231815;font-weight:700;-webkit-text-stroke:0.25px #231815;transform:translate(166.19px,393.74px) scale(0.8700,1);">1</b>
<b style="font-size:11px;color:#231815;font-weight:700;-webkit-text-stroke:0.25px #231815;transform:translate(184.89px,393.74px) scale(0.8700,1);">1</b>
<b style="font-size:11px;color:#231815;font-weight:700;-webkit-text-stroke:0.25px #231815;transform:translate(203.59px,393.74px) scale(0.8700,1);">2</b>
<b style="font-size:11px;color:#231815;font-weight:700;-webkit-text-stroke:0.25px #231815;transform:translate(222.29px,393.74px) scale(0.8700,1);">2</b>
<b style="font-size:11px;color:#231815;font-weight:700;-webkit-text-stroke:0.25px #231815;transform:translate(240.99px,393.74px) scale(0.8700,1);">2</b>
<b style="font-size:11px;color:#231815;font-weight:700;-webkit-text-stroke:0.25px #231815;transform:translate(166.19px,412.21px) scale(0.8700,1);">1</b>
<b style="font-size:11px;color:#231815;font-weight:700;-webkit-text-stroke:0.25px #231815;transform:translate(184.89px,412.21px) scale(0.8700,1);">1</b>
<b style="font-size:11px;color:#231815;font-weight:700;-webkit-text-stroke:0.25px #231815;transform:translate(203.59px,412.21px) scale(0.8700,1);">1</b>
<b style="font-size:11px;color:#231815;font-weight:700;-webkit-text-stroke:0.25px #231815;transform:translate(222.29px,412.21px) scale(0.8700,1);">1</b>
<b style="font-size:11px;color:#231815;font-weight:700;-webkit-text-stroke:0.25px #231815;transform:translate(240.99px,412.21px) scale(0.8700,1);">1</b>
<b style="font-size:11px;color:#231815;font-weight:700;-webkit-text-stroke:0.25px #231815;transform:translate(166.19px,430.69px) scale(0.8700,1);">1</b>
<b style="font-size:11px;color:#231815;font-weight:700;-webkit-text-stroke:0.25px #231815;transform:translate(184.89px,430.69px) scale(0.8700,1);">1</b>
<b style="font-size:11px;color:#231815;font-weight:700;-webkit-text-stroke:0.25px #231815;transform:translate(203.59px,430.69px) scale(0.8700,1);">1</b>
<b style="font-size:11px;color:#231815;font-weight:700;-webkit-text-stroke:0.25px #231815;transform:translate(222.29px,430.69px) scale(0.8700,1);">1</b>
<b style="font-size:11px;color:#231815;font-weight:700;-webkit-text-stroke:0.25px #231815;transform:translate(240.99px,430.69px) scale(0.8700,1);">1</b>
<b style="font-size:11px;color:#ffffff;font-weight:700;-webkit-text-stroke:0.25px #ffffff;transform:translate(166.19px,449.16px) scale(0.8700,1);">0</b>
<b style="font-size:11px;color:#ffffff;font-weight:700;-webkit-text-stroke:0.25px #ffffff;transform:translate(184.89px,449.16px) scale(0.8700,1);">0</b>
<b style="font-size:11px;color:#ffffff;font-weight:700;-webkit-text-stroke:0.25px #ffffff;transform:translate(203.59px,449.16px) scale(0.8700,1);">0</b>
<b style="font-size:11px;color:#231815;font-weight:700;-webkit-text-stroke:0.25px #231815;transform:translate(222.29px,449.16px) scale(0.8700,1);">1</b>
<b style="font-size:11px;color:#231815;font-weight:700;-webkit-text-stroke:0.25px #231815;transform:translate(240.99px,449.16px) scale(0.8700,1);">1</b>
<b style="font-size:11px;color:#231815;font-weight:700;-webkit-text-stroke:0.25px #231815;transform:translate(312.89px,393.74px) scale(0.8700,1);">2</b>
<b style="font-size:11px;color:#231815;font-weight:700;-webkit-text-stroke:0.25px #231815;transform:translate(331.59px,393.74px) scale(0.8700,1);">2</b>
<b style="font-size:11px;color:#231815;font-weight:700;-webkit-text-stroke:0.25px #231815;transform:translate(350.29px,393.74px) scale(0.8700,1);">3</b>
<b style="font-size:11px;color:#231815;font-weight:700;-webkit-text-stroke:0.25px #231815;transform:translate(368.99px,393.74px) scale(0.8700,1);">3</b>
<b style="font-size:11px;color:#231815;font-weight:700;-webkit-text-stroke:0.25px #231815;transform:translate(387.69px,393.74px) scale(0.8700,1);">4</b>
<b style="font-size:11px;color:#231815;font-weight:700;-webkit-text-stroke:0.25px #231815;transform:translate(312.89px,412.21px) scale(0.8700,1);">1</b>
<b style="font-size:11px;color:#231815;font-weight:700;-webkit-text-stroke:0.25px #231815;transform:translate(331.59px,412.21px) scale(0.8700,1);">1</b>
<b style="font-size:11px;color:#231815;font-weight:700;-webkit-text-stroke:0.25px #231815;transform:translate(350.29px,412.21px) scale(0.8700,1);">2</b>
<b style="font-size:11px;color:#231815;font-weight:700;-webkit-text-stroke:0.25px #231815;transform:translate(368.99px,412.21px) scale(0.8700,1);">2</b>
<b style="font-size:11px;color:#231815;font-weight:700;-webkit-text-stroke:0.25px #231815;transform:translate(387.69px,412.21px) scale(0.8700,1);">2</b>
<b style="font-size:11px;color:#231815;font-weight:700;-webkit-text-stroke:0.25px #231815;transform:translate(312.89px,430.69px) scale(0.8700,1);">1</b>
<b style="font-size:11px;color:#231815;font-weight:700;-webkit-text-stroke:0.25px #231815;transform:translate(331.59px,430.69px) scale(0.8700,1);">1</b>
<b style="font-size:11px;color:#231815;font-weight:700;-webkit-text-stroke:0.25px #231815;transform:translate(350.29px,430.69px) scale(0.8700,1);">1</b>
<b style="font-size:11px;color:#231815;font-weight:700;-webkit-text-stroke:0.25px #231815;transform:translate(368.99px,430.69px) scale(0.8700,1);">1</b>
<b style="font-size:11px;color:#231815;font-weight:700;-webkit-text-stroke:0.25px #231815;transform:translate(387.69px,430.69px) scale(0.8700,1);">2</b>
<b style="font-size:11px;color:#231815;font-weight:700;-webkit-text-stroke:0.25px #231815;transform:translate(312.89px,449.16px) scale(0.8700,1);">1</b>
<b style="font-size:11px;color:#231815;font-weight:700;-webkit-text-stroke:0.25px #231815;transform:translate(331.59px,449.16px) scale(0.8700,1);">1</b>
<b style="font-size:11px;color:#231815;font-weight:700;-webkit-text-stroke:0.25px #231815;transform:translate(350.29px,449.16px) scale(0.8700,1);">1</b>
<b style="font-size:11px;color:#231815;font-weight:700;-webkit-text-stroke:0.25px #231815;transform:translate(368.99px,449.16px) scale(0.8700,1);">1</b>
<b style="font-size:11px;color:#231815;font-weight:700;-webkit-text-stroke:0.25px #231815;transform:translate(387.69px,449.16px) scale(0.8700,1);">1</b>
<b style="font-size:11px;color:#231815;font-weight:700;-webkit-text-stroke:0.25px #231815;transform:translate(418.89px,393.74px) scale(0.8700,1);">4</b>
<b style="font-size:11px;color:#231815;font-weight:700;-webkit-text-stroke:0.25px #231815;transform:translate(437.59px,393.74px) scale(0.8700,1);">4</b>
<b style="font-size:11px;color:#231815;font-weight:700;-webkit-text-stroke:0.25px #231815;transform:translate(456.29px,393.74px) scale(0.8700,1);">5</b>
<b style="font-size:11px;color:#231815;font-weight:700;-webkit-text-stroke:0.25px #231815;transform:translate(474.99px,393.74px) scale(0.8700,1);">6</b>
<b style="font-size:11px;color:#231815;font-weight:700;-webkit-text-stroke:0.25px #231815;transform:translate(493.69px,393.74px) scale(0.8700,1);">7</b>
<b style="font-size:11px;color:#231815;font-weight:700;-webkit-text-stroke:0.25px #231815;transform:translate(418.89px,412.21px) scale(0.8700,1);">2</b>
<b style="font-size:11px;color:#231815;font-weight:700;-webkit-text-stroke:0.25px #231815;transform:translate(437.59px,412.21px) scale(0.8700,1);">3</b>
<b style="font-size:11px;color:#231815;font-weight:700;-webkit-text-stroke:0.25px #231815;transform:translate(456.29px,412.21px) scale(0.8700,1);">3</b>
<b style="font-size:11px;color:#231815;font-weight:700;-webkit-text-stroke:0.25px #231815;transform:translate(474.99px,412.21px) scale(0.8700,1);">4</b>
<b style="font-size:11px;color:#231815;font-weight:700;-webkit-text-stroke:0.25px #231815;transform:translate(493.69px,412.21px) scale(0.8700,1);">5</b>
<b style="font-size:11px;color:#231815;font-weight:700;-webkit-text-stroke:0.25px #231815;transform:translate(418.89px,430.69px) scale(0.8700,1);">2</b>
<b style="font-size:11px;color:#231815;font-weight:700;-webkit-text-stroke:0.25px #231815;transform:translate(437.59px,430.69px) scale(0.8700,1);">2</b>
<b style="font-size:11px;color:#231815;font-weight:700;-webkit-text-stroke:0.25px #231815;transform:translate(456.29px,430.69px) scale(0.8700,1);">2</b>
<b style="font-size:11px;color:#231815;font-weight:700;-webkit-text-stroke:0.25px #231815;transform:translate(474.99px,430.69px) scale(0.8700,1);">3</b>
<b style="font-size:11px;color:#231815;font-weight:700;-webkit-text-stroke:0.25px #231815;transform:translate(493.69px,430.69px) scale(0.8700,1);">3</b>
<b style="font-size:11px;color:#231815;font-weight:700;-webkit-text-stroke:0.25px #231815;transform:translate(418.89px,449.16px) scale(0.8700,1);">1</b>
<b style="font-size:11px;color:#231815;font-weight:700;-webkit-text-stroke:0.25px #231815;transform:translate(437.59px,449.16px) scale(0.8700,1);">1</b>
<b style="font-size:11px;color:#231815;font-weight:700;-webkit-text-stroke:0.25px #231815;transform:translate(456.29px,449.16px) scale(0.8700,1);">2</b>
<b style="font-size:11px;color:#231815;font-weight:700;-webkit-text-stroke:0.25px #231815;transform:translate(474.99px,449.16px) scale(0.8700,1);">2</b>
<b style="font-size:11px;color:#231815;font-weight:700;-webkit-text-stroke:0.25px #231815;transform:translate(493.69px,449.16px) scale(0.8700,1);">2</b>
<b style="font-size:10.3px;color:#111;-webkit-text-stroke:0.3px #111;transform:translate(32.00px,393.89px) scale(1.0240,1);">180</b>
<b style="font-size:10.3px;color:#111;-webkit-text-stroke:0.3px #111;transform:translate(32.00px,412.36px) scale(1.0240,1);">160</b>
<b style="font-size:10.3px;color:#111;-webkit-text-stroke:0.3px #111;transform:translate(32.00px,430.84px) scale(1.0240,1);">140</b>
<b style="font-size:10.3px;color:#111;-webkit-text-stroke:0.3px #111;transform:translate(32.00px,449.31px) scale(1.0240,1);">120</b>
<b style="font-size:11px;color:#ffffff;font-weight:700;-webkit-text-stroke:0.25px #ffffff;transform:translate(60.89px,482.53px) scale(0.8700,1);">0</b>
<b style="font-size:11px;color:#ffffff;font-weight:700;-webkit-text-stroke:0.25px #ffffff;transform:translate(79.59px,482.53px) scale(0.8700,1);">0</b>
<b style="font-size:11px;color:#ffffff;font-weight:700;-webkit-text-stroke:0.25px #ffffff;transform:translate(98.29px,482.53px) scale(0.8700,1);">0</b>
<b style="font-size:11px;color:#ffffff;font-weight:700;-webkit-text-stroke:0.25px #ffffff;transform:translate(116.99px,482.53px) scale(0.8700,1);">0</b>
<b style="font-size:11px;color:#ffffff;font-weight:700;-webkit-text-stroke:0.25px #ffffff;transform:translate(135.69px,482.53px) scale(0.8700,1);">0</b>
<b style="font-size:11px;color:#ffffff;font-weight:700;-webkit-text-stroke:0.25px #ffffff;transform:translate(60.89px,500.98px) scale(0.8700,1);">0</b>
<b style="font-size:11px;color:#ffffff;font-weight:700;-webkit-text-stroke:0.25px #ffffff;transform:translate(79.59px,500.98px) scale(0.8700,1);">0</b>
<b style="font-size:11px;color:#ffffff;font-weight:700;-webkit-text-stroke:0.25px #ffffff;transform:translate(98.29px,500.98px) scale(0.8700,1);">0</b>
<b style="font-size:11px;color:#ffffff;font-weight:700;-webkit-text-stroke:0.25px #ffffff;transform:translate(116.99px,500.98px) scale(0.8700,1);">0</b>
<b style="font-size:11px;color:#ffffff;font-weight:700;-webkit-text-stroke:0.25px #ffffff;transform:translate(135.69px,500.98px) scale(0.8700,1);">0</b>
<b style="font-size:11px;color:#ffffff;font-weight:700;-webkit-text-stroke:0.25px #ffffff;transform:translate(60.89px,519.43px) scale(0.8700,1);">0</b>
<b style="font-size:11px;color:#ffffff;font-weight:700;-webkit-text-stroke:0.25px #ffffff;transform:translate(79.59px,519.43px) scale(0.8700,1);">0</b>
<b style="font-size:11px;color:#ffffff;font-weight:700;-webkit-text-stroke:0.25px #ffffff;transform:translate(98.29px,519.43px) scale(0.8700,1);">0</b>
<b style="font-size:11px;color:#ffffff;font-weight:700;-webkit-text-stroke:0.25px #ffffff;transform:translate(116.99px,519.43px) scale(0.8700,1);">0</b>
<b style="font-size:11px;color:#ffffff;font-weight:700;-webkit-text-stroke:0.25px #ffffff;transform:translate(135.69px,519.43px) scale(0.8700,1);">0</b>
<b style="font-size:11px;color:#ffffff;font-weight:700;-webkit-text-stroke:0.25px #ffffff;transform:translate(60.89px,537.88px) scale(0.8700,1);">0</b>
<b style="font-size:11px;color:#ffffff;font-weight:700;-webkit-text-stroke:0.25px #ffffff;transform:translate(79.59px,537.88px) scale(0.8700,1);">0</b>
<b style="font-size:11px;color:#ffffff;font-weight:700;-webkit-text-stroke:0.25px #ffffff;transform:translate(98.29px,537.88px) scale(0.8700,1);">0</b>
<b style="font-size:11px;color:#ffffff;font-weight:700;-webkit-text-stroke:0.25px #ffffff;transform:translate(116.99px,537.88px) scale(0.8700,1);">0</b>
<b style="font-size:11px;color:#ffffff;font-weight:700;-webkit-text-stroke:0.25px #ffffff;transform:translate(135.69px,537.88px) scale(0.8700,1);">0</b>
<b style="font-size:11px;color:#ffffff;font-weight:700;-webkit-text-stroke:0.25px #ffffff;transform:translate(166.19px,482.53px) scale(0.8700,1);">0</b>
<b style="font-size:11px;color:#ffffff;font-weight:700;-webkit-text-stroke:0.25px #ffffff;transform:translate(184.89px,482.53px) scale(0.8700,1);">0</b>
<b style="font-size:11px;color:#ffffff;font-weight:700;-webkit-text-stroke:0.25px #ffffff;transform:translate(203.59px,482.53px) scale(0.8700,1);">0</b>
<b style="font-size:11px;color:#ffffff;font-weight:700;-webkit-text-stroke:0.25px #ffffff;transform:translate(222.29px,482.53px) scale(0.8700,1);">0</b>
<b style="font-size:11px;color:#ffffff;font-weight:700;-webkit-text-stroke:0.25px #ffffff;transform:translate(240.99px,482.53px) scale(0.8700,1);">0</b>
<b style="font-size:11px;color:#ffffff;font-weight:700;-webkit-text-stroke:0.25px #ffffff;transform:translate(166.19px,500.98px) scale(0.8700,1);">0</b>
<b style="font-size:11px;color:#ffffff;font-weight:700;-webkit-text-stroke:0.25px #ffffff;transform:translate(184.89px,500.98px) scale(0.8700,1);">0</b>
<b style="font-size:11px;color:#ffffff;font-weight:700;-webkit-text-stroke:0.25px #ffffff;transform:translate(203.59px,500.98px) scale(0.8700,1);">0</b>
<b style="font-size:11px;color:#ffffff;font-weight:700;-webkit-text-stroke:0.25px #ffffff;transform:translate(222.29px,500.98px) scale(0.8700,1);">0</b>
<b style="font-size:11px;color:#ffffff;font-weight:700;-webkit-text-stroke:0.25px #ffffff;transform:translate(240.99px,500.98px) scale(0.8700,1);">0</b>
<b style="font-size:11px;color:#ffffff;font-weight:700;-webkit-text-stroke:0.25px #ffffff;transform:translate(166.19px,519.43px) scale(0.8700,1);">0</b>
<b style="font-size:11px;color:#ffffff;font-weight:700;-webkit-text-stroke:0.25px #ffffff;transform:translate(184.89px,519.43px) scale(0.8700,1);">0</b>
<b style="font-size:11px;color:#ffffff;font-weight:700;-webkit-text-stroke:0.25px #ffffff;transform:translate(203.59px,519.43px) scale(0.8700,1);">0</b>
<b style="font-size:11px;color:#ffffff;font-weight:700;-webkit-text-stroke:0.25px #ffffff;transform:translate(222.29px,519.43px) scale(0.8700,1);">0</b>
<b style="font-size:11px;color:#ffffff;font-weight:700;-webkit-text-stroke:0.25px #ffffff;transform:translate(240.99px,519.43px) scale(0.8700,1);">0</b>
<b style="font-size:11px;color:#ffffff;font-weight:700;-webkit-text-stroke:0.25px #ffffff;transform:translate(166.19px,537.88px) scale(0.8700,1);">0</b>
<b style="font-size:11px;color:#ffffff;font-weight:700;-webkit-text-stroke:0.25px #ffffff;transform:translate(184.89px,537.88px) scale(0.8700,1);">0</b>
<b style="font-size:11px;color:#ffffff;font-weight:700;-webkit-text-stroke:0.25px #ffffff;transform:translate(203.59px,537.88px) scale(0.8700,1);">0</b>
<b style="font-size:11px;color:#ffffff;font-weight:700;-webkit-text-stroke:0.25px #ffffff;transform:translate(222.29px,537.88px) scale(0.8700,1);">0</b>
<b style="font-size:11px;color:#ffffff;font-weight:700;-webkit-text-stroke:0.25px #ffffff;transform:translate(240.99px,537.88px) scale(0.8700,1);">0</b>
<b style="font-size:11px;color:#ffffff;font-weight:700;-webkit-text-stroke:0.25px #ffffff;transform:translate(312.89px,482.53px) scale(0.8700,1);">0</b>
<b style="font-size:11px;color:#231815;font-weight:700;-webkit-text-stroke:0.25px #231815;transform:translate(331.59px,482.53px) scale(0.8700,1);">1</b>
<b style="font-size:11px;color:#231815;font-weight:700;-webkit-text-stroke:0.25px #231815;transform:translate(350.29px,482.53px) scale(0.8700,1);">1</b>
<b style="font-size:11px;color:#231815;font-weight:700;-webkit-text-stroke:0.25px #231815;transform:translate(368.99px,482.53px) scale(0.8700,1);">1</b>
<b style="font-size:11px;color:#231815;font-weight:700;-webkit-text-stroke:0.25px #231815;transform:translate(387.69px,482.53px) scale(0.8700,1);">1</b>
<b style="font-size:11px;color:#ffffff;font-weight:700;-webkit-text-stroke:0.25px #ffffff;transform:translate(312.89px,500.98px) scale(0.8700,1);">0</b>
<b style="font-size:11px;color:#ffffff;font-weight:700;-webkit-text-stroke:0.25px #ffffff;transform:translate(331.59px,500.98px) scale(0.8700,1);">0</b>
<b style="font-size:11px;color:#ffffff;font-weight:700;-webkit-text-stroke:0.25px #ffffff;transform:translate(350.29px,500.98px) scale(0.8700,1);">0</b>
<b style="font-size:11px;color:#231815;font-weight:700;-webkit-text-stroke:0.25px #231815;transform:translate(368.99px,500.98px) scale(0.8700,1);">1</b>
<b style="font-size:11px;color:#231815;font-weight:700;-webkit-text-stroke:0.25px #231815;transform:translate(387.69px,500.98px) scale(0.8700,1);">1</b>
<b style="font-size:11px;color:#ffffff;font-weight:700;-webkit-text-stroke:0.25px #ffffff;transform:translate(312.89px,519.43px) scale(0.8700,1);">0</b>
<b style="font-size:11px;color:#ffffff;font-weight:700;-webkit-text-stroke:0.25px #ffffff;transform:translate(331.59px,519.43px) scale(0.8700,1);">0</b>
<b style="font-size:11px;color:#ffffff;font-weight:700;-webkit-text-stroke:0.25px #ffffff;transform:translate(350.29px,519.43px) scale(0.8700,1);">0</b>
<b style="font-size:11px;color:#ffffff;font-weight:700;-webkit-text-stroke:0.25px #ffffff;transform:translate(368.99px,519.43px) scale(0.8700,1);">0</b>
<b style="font-size:11px;color:#ffffff;font-weight:700;-webkit-text-stroke:0.25px #ffffff;transform:translate(387.69px,519.43px) scale(0.8700,1);">0</b>
<b style="font-size:11px;color:#ffffff;font-weight:700;-webkit-text-stroke:0.25px #ffffff;transform:translate(312.89px,537.88px) scale(0.8700,1);">0</b>
<b style="font-size:11px;color:#ffffff;font-weight:700;-webkit-text-stroke:0.25px #ffffff;transform:translate(331.59px,537.88px) scale(0.8700,1);">0</b>
<b style="font-size:11px;color:#ffffff;font-weight:700;-webkit-text-stroke:0.25px #ffffff;transform:translate(350.29px,537.88px) scale(0.8700,1);">0</b>
<b style="font-size:11px;color:#ffffff;font-weight:700;-webkit-text-stroke:0.25px #ffffff;transform:translate(368.99px,537.88px) scale(0.8700,1);">0</b>
<b style="font-size:11px;color:#ffffff;font-weight:700;-webkit-text-stroke:0.25px #ffffff;transform:translate(387.69px,537.88px) scale(0.8700,1);">0</b>
<b style="font-size:11px;color:#231815;font-weight:700;-webkit-text-stroke:0.25px #231815;transform:translate(418.89px,482.53px) scale(0.8700,1);">1</b>
<b style="font-size:11px;color:#231815;font-weight:700;-webkit-text-stroke:0.25px #231815;transform:translate(437.59px,482.53px) scale(0.8700,1);">1</b>
<b style="font-size:11px;color:#231815;font-weight:700;-webkit-text-stroke:0.25px #231815;transform:translate(456.29px,482.53px) scale(0.8700,1);">1</b>
<b style="font-size:11px;color:#231815;font-weight:700;-webkit-text-stroke:0.25px #231815;transform:translate(474.99px,482.53px) scale(0.8700,1);">2</b>
<b style="font-size:11px;color:#231815;font-weight:700;-webkit-text-stroke:0.25px #231815;transform:translate(493.69px,482.53px) scale(0.8700,1);">2</b>
<b style="font-size:11px;color:#231815;font-weight:700;-webkit-text-stroke:0.25px #231815;transform:translate(418.89px,500.98px) scale(0.8700,1);">1</b>
<b style="font-size:11px;color:#231815;font-weight:700;-webkit-text-stroke:0.25px #231815;transform:translate(437.59px,500.98px) scale(0.8700,1);">1</b>
<b style="font-size:11px;color:#231815;font-weight:700;-webkit-text-stroke:0.25px #231815;transform:translate(456.29px,500.98px) scale(0.8700,1);">1</b>
<b style="font-size:11px;color:#231815;font-weight:700;-webkit-text-stroke:0.25px #231815;transform:translate(474.99px,500.98px) scale(0.8700,1);">1</b>
<b style="font-size:11px;color:#231815;font-weight:700;-webkit-text-stroke:0.25px #231815;transform:translate(493.69px,500.98px) scale(0.8700,1);">1</b>
<b style="font-size:11px;color:#ffffff;font-weight:700;-webkit-text-stroke:0.25px #ffffff;transform:translate(418.89px,519.43px) scale(0.8700,1);">0</b>
<b style="font-size:11px;color:#231815;font-weight:700;-webkit-text-stroke:0.25px #231815;transform:translate(437.59px,519.43px) scale(0.8700,1);">1</b>
<b style="font-size:11px;color:#231815;font-weight:700;-webkit-text-stroke:0.25px #231815;transform:translate(456.29px,519.43px) scale(0.8700,1);">1</b>
<b style="font-size:11px;color:#231815;font-weight:700;-webkit-text-stroke:0.25px #231815;transform:translate(474.99px,519.43px) scale(0.8700,1);">1</b>
<b style="font-size:11px;color:#231815;font-weight:700;-webkit-text-stroke:0.25px #231815;transform:translate(493.69px,519.43px) scale(0.8700,1);">1</b>
<b style="font-size:11px;color:#ffffff;font-weight:700;-webkit-text-stroke:0.25px #ffffff;transform:translate(418.89px,537.88px) scale(0.8700,1);">0</b>
<b style="font-size:11px;color:#ffffff;font-weight:700;-webkit-text-stroke:0.25px #ffffff;transform:translate(437.59px,537.88px) scale(0.8700,1);">0</b>
<b style="font-size:11px;color:#ffffff;font-weight:700;-webkit-text-stroke:0.25px #ffffff;transform:translate(456.29px,537.88px) scale(0.8700,1);">0</b>
<b style="font-size:11px;color:#231815;font-weight:700;-webkit-text-stroke:0.25px #231815;transform:translate(474.99px,537.88px) scale(0.8700,1);">1</b>
<b style="font-size:11px;color:#231815;font-weight:700;-webkit-text-stroke:0.25px #231815;transform:translate(493.69px,537.88px) scale(0.8700,1);">1</b>
<b style="font-size:10.3px;color:#111;-webkit-text-stroke:0.3px #111;transform:translate(32.00px,482.68px) scale(1.0240,1);">180</b>
<b style="font-size:10.3px;color:#111;-webkit-text-stroke:0.3px #111;transform:translate(32.00px,501.13px) scale(1.0240,1);">160</b>
<b style="font-size:10.3px;color:#111;-webkit-text-stroke:0.3px #111;transform:translate(32.00px,519.58px) scale(1.0240,1);">140</b>
<b style="font-size:10.3px;color:#111;-webkit-text-stroke:0.3px #111;transform:translate(32.00px,538.02px) scale(1.0240,1);">120</b>
<b style="font-size:11px;color:#111;font-weight:700;-webkit-text-stroke:0.25px #111;transform:translate(60.79px,558.10px) scale(0.9000,1);">4</b>
<b style="font-size:11px;color:#111;font-weight:700;-webkit-text-stroke:0.25px #111;transform:translate(79.49px,558.10px) scale(0.9000,1);">5</b>
<b style="font-size:11px;color:#111;font-weight:700;-webkit-text-stroke:0.25px #111;transform:translate(98.19px,558.10px) scale(0.9000,1);">6</b>
<b style="font-size:11px;color:#111;font-weight:700;-webkit-text-stroke:0.25px #111;transform:translate(116.89px,558.10px) scale(0.9000,1);">7</b>
<b style="font-size:11px;color:#111;font-weight:700;-webkit-text-stroke:0.25px #111;transform:translate(135.59px,558.10px) scale(0.9000,1);">8</b>
<b style="font-size:11px;color:#111;font-weight:700;-webkit-text-stroke:0.25px #111;transform:translate(166.09px,558.10px) scale(0.9000,1);">4</b>
<b style="font-size:11px;color:#111;font-weight:700;-webkit-text-stroke:0.25px #111;transform:translate(184.79px,558.10px) scale(0.9000,1);">5</b>
<b style="font-size:11px;color:#111;font-weight:700;-webkit-text-stroke:0.25px #111;transform:translate(203.49px,558.10px) scale(0.9000,1);">6</b>
<b style="font-size:11px;color:#111;font-weight:700;-webkit-text-stroke:0.25px #111;transform:translate(222.19px,558.10px) scale(0.9000,1);">7</b>
<b style="font-size:11px;color:#111;font-weight:700;-webkit-text-stroke:0.25px #111;transform:translate(240.89px,558.10px) scale(0.9000,1);">8</b>
<b style="font-size:11px;color:#111;font-weight:700;-webkit-text-stroke:0.25px #111;transform:translate(312.79px,558.10px) scale(0.9000,1);">4</b>
<b style="font-size:11px;color:#111;font-weight:700;-webkit-text-stroke:0.25px #111;transform:translate(331.49px,558.10px) scale(0.9000,1);">5</b>
<b style="font-size:11px;color:#111;font-weight:700;-webkit-text-stroke:0.25px #111;transform:translate(350.19px,558.10px) scale(0.9000,1);">6</b>
<b style="font-size:11px;color:#111;font-weight:700;-webkit-text-stroke:0.25px #111;transform:translate(368.89px,558.10px) scale(0.9000,1);">7</b>
<b style="font-size:11px;color:#111;font-weight:700;-webkit-text-stroke:0.25px #111;transform:translate(387.59px,558.10px) scale(0.9000,1);">8</b>
<b style="font-size:11px;color:#111;font-weight:700;-webkit-text-stroke:0.25px #111;transform:translate(418.79px,558.10px) scale(0.9000,1);">4</b>
<b style="font-size:11px;color:#111;font-weight:700;-webkit-text-stroke:0.25px #111;transform:translate(437.49px,558.10px) scale(0.9000,1);">5</b>
<b style="font-size:11px;color:#111;font-weight:700;-webkit-text-stroke:0.25px #111;transform:translate(456.19px,558.10px) scale(0.9000,1);">6</b>
<b style="font-size:11px;color:#111;font-weight:700;-webkit-text-stroke:0.25px #111;transform:translate(474.89px,558.10px) scale(0.9000,1);">7</b>
<b style="font-size:11px;color:#111;font-weight:700;-webkit-text-stroke:0.25px #111;transform:translate(493.59px,558.10px) scale(0.9000,1);">8</b>
<b style="font-size:13.8px;color:#d01f2d;font-weight:700;transform:translate(264.80px,103.40px) scale(1.1120,1);">Age</b>
<b style="font-size:13.3px;color:#d01f2d;font-weight:700;transform:translate(270.70px,153.75px) scale(1.2030,1);">65</b>
<b style="font-size:13.3px;color:#d01f2d;font-weight:700;transform:translate(270.70px,244.35px) scale(1.2030,1);">60</b>
<b style="font-size:13.3px;color:#d01f2d;font-weight:700;transform:translate(270.70px,336.75px) scale(1.2030,1);">55</b>
<b style="font-size:13.3px;color:#d01f2d;font-weight:700;transform:translate(270.70px,426.35px) scale(1.2030,1);">50</b>
<b style="font-size:13.3px;color:#d01f2d;font-weight:700;transform:translate(270.70px,520.55px) scale(1.2030,1);">40</b>
<b style="font-size:13.8px;color:#1a1a1a;transform:translate(65.15px,96.10px) scale(0.9635,1);">Non-smoker</b>
<b style="font-size:13.8px;color:#1a1a1a;transform:translate(184.57px,96.10px) scale(0.9286,1);">Smoker</b>
<b style="font-size:13.8px;color:#1a1a1a;transform:translate(317.15px,96.10px) scale(0.9635,1);">Non-smoker</b>
<b style="font-size:13.8px;color:#1a1a1a;transform:translate(437.27px,96.10px) scale(0.9286,1);">Smoker</b>
<b style="font-size:16.4px;color:#111;font-weight:700;-webkit-text-stroke:0.4px #111;transform:translate(114.65px,65.90px) scale(1.1430,1);">WOMEN</b>
<b style="font-size:16.4px;color:#111;font-weight:700;-webkit-text-stroke:0.4px #111;transform:translate(387.50px,65.90px) scale(1.0978,1);">MEN</b>
<b style="font-size:6.4px;color:#1a1a1a;font-weight:700;transform:translate(230.80px,19.80px) scale(1.0193,1);">15% and over</b>
<b style="font-size:6.4px;color:#1a1a1a;font-weight:700;transform:translate(230.80px,29.10px) scale(1.0192,1);">10%–14%</b>
<b style="font-size:6.4px;color:#1a1a1a;font-weight:700;transform:translate(230.80px,38.60px) scale(0.9986,1);">5%–9%</b>
<b style="font-size:6.4px;color:#1a1a1a;font-weight:700;transform:translate(230.80px,48.00px) scale(0.9986,1);">3%–4%</b>
<b style="font-size:6.4px;color:#1a1a1a;font-weight:700;transform:translate(230.80px,57.30px) scale(0.9946,1);">2%</b>
<b style="font-size:6.4px;color:#1a1a1a;font-weight:700;transform:translate(230.80px,66.80px) scale(0.9946,1);">1%</b>
<b style="font-size:6.4px;color:#1a1a1a;font-weight:700;transform:translate(230.80px,76.00px) scale(1.0641,1);">&lt;1%</b>
<b style="font-size:6.4px;color:#1a1a1a;font-weight:700;transform:translate(294.20px,32.80px) scale(0.9598,1);">10-year risk of</b>
<b style="font-size:6.4px;color:#1a1a1a;font-weight:700;transform:translate(297.10px,45.90px) scale(0.9979,1);">fatal CVD in</b>
<b style="font-size:6.4px;color:#1a1a1a;font-weight:700;transform:translate(293.65px,59.80px) scale(0.9777,1);">populations at</b>
<b style="font-size:6.4px;color:#1a1a1a;font-weight:700;-webkit-text-stroke:0.25px #1a1a1a;transform:translate(294.20px,72.90px) scale(1.0645,1);">low CVD risk</b>
<span style="position:absolute;left:0;top:0"><b style="font-size:15px;color:#111;font-weight:700;-webkit-text-stroke:0.45px #111;transform:translate(224.20px,0.05px) scale(0.8924,1);">SC</b><b style="font-size:15.4px;color:#111;font-weight:700;-webkit-text-stroke:0.5px #111;transform:translate(244.40px,-0.20px) scale(1.0347,1);">O</b><b style="font-size:15px;color:#111;font-weight:700;-webkit-text-stroke:0.45px #111;transform:translate(258.90px,0.05px) scale(0.7580,1);">RE</b></span>
<b style="font-size:12px;color:#111;font-weight:700;-webkit-text-stroke:0.4px #111;transform:translate(6.00px,547.35px) rotate(-90deg) scale(0.9533,1);">Systolic blood pressure</b>
<b style="font-size:11.5px;color:#111;font-weight:700;-webkit-text-stroke:0.35px #111;transform:translate(222.60px,583.85px) scale(1.0329,1);">Cholesterol (mmol/L)</b>
<b style="font-size:10.4px;color:#222;transform:translate(423.55px,591.40px) scale(0.9934,1);">150 200 250 300</b>
<b style="font-size:10.4px;color:#222;transform:translate(446.55px,605.10px) scale(0.9865,1);">mg/dL</b>
<b style="font-size:8.3px;color:#666;transform:translate(512.65px,524.10px) rotate(-90deg) scale(0.9730,1);">© ESC 2016</b>
</div></body></html>
